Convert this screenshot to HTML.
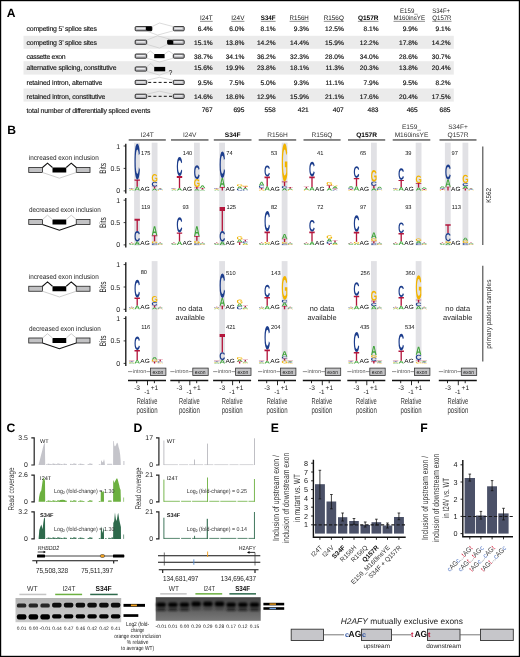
<!DOCTYPE html><html><head><meta charset="utf-8"><style>html,body{margin:0;padding:0;background:#fff;overflow:hidden}svg{display:block;will-change:transform}</style></head><body>
<svg width="520" height="657" viewBox="0 0 520 657" text-rendering="geometricPrecision" font-family='"Liberation Sans", sans-serif'>
<defs><path id="gC" d="M795 212Q1062 212 1166 480L1423 383Q1340 179 1179.5 79.5Q1019 -20 795 -20Q455 -20 269.5 172.5Q84 365 84 711Q84 1058 263.0 1244.0Q442 1430 782 1430Q1030 1430 1186.0 1330.5Q1342 1231 1405 1038L1145 967Q1112 1073 1015.5 1135.5Q919 1198 788 1198Q588 1198 484.5 1074.0Q381 950 381 711Q381 468 487.5 340.0Q594 212 795 212Z"/><path id="gT" d="M773 1181V0H478V1181H23V1409H1229V1181Z"/><path id="gA" d="M1133 0 1008 360H471L346 0H51L565 1409H913L1425 0ZM739 1192 733 1170Q723 1134 709.0 1088.0Q695 1042 537 582H942L803 987L760 1123Z"/><path id="gG" d="M806 211Q921 211 1029.0 244.5Q1137 278 1196 330V525H852V743H1466V225Q1354 110 1174.5 45.0Q995 -20 798 -20Q454 -20 269.0 170.5Q84 361 84 711Q84 1059 270.0 1244.5Q456 1430 805 1430Q1301 1430 1436 1063L1164 981Q1120 1088 1026.0 1143.0Q932 1198 805 1198Q597 1198 489.0 1072.0Q381 946 381 711Q381 472 492.5 341.5Q604 211 806 211Z"/></defs>
<rect x="0" y="0" width="520" height="657" fill="#fff"/>
<text x="6.8" y="16.6" font-size="12.1" font-weight="bold" fill="#000">A</text>
<rect x="23.5" y="35.8" width="430.3" height="13.0" fill="#ebebeb"/>
<rect x="23.5" y="61.2" width="430.3" height="13.399999999999991" fill="#ebebeb"/>
<rect x="23.5" y="88.5" width="430.3" height="13.099999999999994" fill="#ebebeb"/>
<text x="26.5" y="30.7" font-size="6.9" textLength="70.4" lengthAdjust="spacing" fill="#111" stroke="#111" stroke-width="0.12">competing 5&#8217; splice sites</text>
<text x="26.5" y="44.6" font-size="6.9" textLength="70.4" lengthAdjust="spacing" fill="#111" stroke="#111" stroke-width="0.12">competing 3&#8217; splice sites</text>
<text x="26.5" y="58.6" font-size="6.9" textLength="39.2" lengthAdjust="spacing" fill="#111" stroke="#111" stroke-width="0.12">cassette exon</text>
<text x="26.5" y="70.2" font-size="6.9" textLength="90.0" lengthAdjust="spacing" fill="#111" stroke="#111" stroke-width="0.12">alternative splicing, constitutive</text>
<text x="26.5" y="85.0" font-size="6.9" textLength="75.9" lengthAdjust="spacing" fill="#111" stroke="#111" stroke-width="0.12">retained intron, alternative</text>
<text x="26.5" y="98.7" font-size="6.9" textLength="78.9" lengthAdjust="spacing" fill="#111" stroke="#111" stroke-width="0.12">retained intron, constitutive</text>
<text x="26.5" y="112.9" font-size="6.9" textLength="123.9" lengthAdjust="spacing" fill="#111" stroke="#111" stroke-width="0.12">total number of differentially spliced events</text>
<text x="212.7" y="30.7" font-size="6.6" text-anchor="end" fill="#111" stroke="#111" stroke-width="0.18">6.4%</text>
<text x="244.4" y="30.7" font-size="6.6" text-anchor="end" fill="#111" stroke="#111" stroke-width="0.18">6.0%</text>
<text x="275.6" y="30.7" font-size="6.6" text-anchor="end" fill="#111" stroke="#111" stroke-width="0.18">8.1%</text>
<text x="308.8" y="30.7" font-size="6.6" text-anchor="end" fill="#111" stroke="#111" stroke-width="0.18">9.3%</text>
<text x="343.8" y="30.7" font-size="6.6" text-anchor="end" fill="#111" stroke="#111" stroke-width="0.18">12.5%</text>
<text x="378.5" y="30.7" font-size="6.6" text-anchor="end" fill="#111" stroke="#111" stroke-width="0.18">8.1%</text>
<text x="417.7" y="30.7" font-size="6.6" text-anchor="end" fill="#111" stroke="#111" stroke-width="0.18">9.9%</text>
<text x="450.5" y="30.7" font-size="6.6" text-anchor="end" fill="#111" stroke="#111" stroke-width="0.18">9.1%</text>
<text x="212.7" y="44.6" font-size="6.6" text-anchor="end" fill="#111" stroke="#111" stroke-width="0.18">15.1%</text>
<text x="244.4" y="44.6" font-size="6.6" text-anchor="end" fill="#111" stroke="#111" stroke-width="0.18">13.8%</text>
<text x="275.6" y="44.6" font-size="6.6" text-anchor="end" fill="#111" stroke="#111" stroke-width="0.18">14.2%</text>
<text x="308.8" y="44.6" font-size="6.6" text-anchor="end" fill="#111" stroke="#111" stroke-width="0.18">14.4%</text>
<text x="343.8" y="44.6" font-size="6.6" text-anchor="end" fill="#111" stroke="#111" stroke-width="0.18">15.9%</text>
<text x="378.5" y="44.6" font-size="6.6" text-anchor="end" fill="#111" stroke="#111" stroke-width="0.18">12.2%</text>
<text x="417.7" y="44.6" font-size="6.6" text-anchor="end" fill="#111" stroke="#111" stroke-width="0.18">17.8%</text>
<text x="450.5" y="44.6" font-size="6.6" text-anchor="end" fill="#111" stroke="#111" stroke-width="0.18">14.2%</text>
<text x="212.7" y="58.6" font-size="6.6" text-anchor="end" fill="#111" stroke="#111" stroke-width="0.18">38.7%</text>
<text x="244.4" y="58.6" font-size="6.6" text-anchor="end" fill="#111" stroke="#111" stroke-width="0.18">34.1%</text>
<text x="275.6" y="58.6" font-size="6.6" text-anchor="end" fill="#111" stroke="#111" stroke-width="0.18">36.2%</text>
<text x="308.8" y="58.6" font-size="6.6" text-anchor="end" fill="#111" stroke="#111" stroke-width="0.18">32.3%</text>
<text x="343.8" y="58.6" font-size="6.6" text-anchor="end" fill="#111" stroke="#111" stroke-width="0.18">28.0%</text>
<text x="378.5" y="58.6" font-size="6.6" text-anchor="end" fill="#111" stroke="#111" stroke-width="0.18">34.0%</text>
<text x="417.7" y="58.6" font-size="6.6" text-anchor="end" fill="#111" stroke="#111" stroke-width="0.18">28.6%</text>
<text x="450.5" y="58.6" font-size="6.6" text-anchor="end" fill="#111" stroke="#111" stroke-width="0.18">30.7%</text>
<text x="212.7" y="70.2" font-size="6.6" text-anchor="end" fill="#111" stroke="#111" stroke-width="0.18">15.6%</text>
<text x="244.4" y="70.2" font-size="6.6" text-anchor="end" fill="#111" stroke="#111" stroke-width="0.18">19.9%</text>
<text x="275.6" y="70.2" font-size="6.6" text-anchor="end" fill="#111" stroke="#111" stroke-width="0.18">23.8%</text>
<text x="308.8" y="70.2" font-size="6.6" text-anchor="end" fill="#111" stroke="#111" stroke-width="0.18">18.1%</text>
<text x="343.8" y="70.2" font-size="6.6" text-anchor="end" fill="#111" stroke="#111" stroke-width="0.18">11.3%</text>
<text x="378.5" y="70.2" font-size="6.6" text-anchor="end" fill="#111" stroke="#111" stroke-width="0.18">20.3%</text>
<text x="417.7" y="70.2" font-size="6.6" text-anchor="end" fill="#111" stroke="#111" stroke-width="0.18">13.8%</text>
<text x="450.5" y="70.2" font-size="6.6" text-anchor="end" fill="#111" stroke="#111" stroke-width="0.18">20.4%</text>
<text x="212.7" y="85.0" font-size="6.6" text-anchor="end" fill="#111" stroke="#111" stroke-width="0.18">9.5%</text>
<text x="244.4" y="85.0" font-size="6.6" text-anchor="end" fill="#111" stroke="#111" stroke-width="0.18">7.5%</text>
<text x="275.6" y="85.0" font-size="6.6" text-anchor="end" fill="#111" stroke="#111" stroke-width="0.18">5.0%</text>
<text x="308.8" y="85.0" font-size="6.6" text-anchor="end" fill="#111" stroke="#111" stroke-width="0.18">9.3%</text>
<text x="343.8" y="85.0" font-size="6.6" text-anchor="end" fill="#111" stroke="#111" stroke-width="0.18">11.1%</text>
<text x="378.5" y="85.0" font-size="6.6" text-anchor="end" fill="#111" stroke="#111" stroke-width="0.18">7.9%</text>
<text x="417.7" y="85.0" font-size="6.6" text-anchor="end" fill="#111" stroke="#111" stroke-width="0.18">9.5%</text>
<text x="450.5" y="85.0" font-size="6.6" text-anchor="end" fill="#111" stroke="#111" stroke-width="0.18">8.2%</text>
<text x="212.7" y="98.7" font-size="6.6" text-anchor="end" fill="#111" stroke="#111" stroke-width="0.18">14.6%</text>
<text x="244.4" y="98.7" font-size="6.6" text-anchor="end" fill="#111" stroke="#111" stroke-width="0.18">18.6%</text>
<text x="275.6" y="98.7" font-size="6.6" text-anchor="end" fill="#111" stroke="#111" stroke-width="0.18">12.9%</text>
<text x="308.8" y="98.7" font-size="6.6" text-anchor="end" fill="#111" stroke="#111" stroke-width="0.18">15.9%</text>
<text x="343.8" y="98.7" font-size="6.6" text-anchor="end" fill="#111" stroke="#111" stroke-width="0.18">21.1%</text>
<text x="378.5" y="98.7" font-size="6.6" text-anchor="end" fill="#111" stroke="#111" stroke-width="0.18">17.6%</text>
<text x="417.7" y="98.7" font-size="6.6" text-anchor="end" fill="#111" stroke="#111" stroke-width="0.18">20.4%</text>
<text x="450.5" y="98.7" font-size="6.6" text-anchor="end" fill="#111" stroke="#111" stroke-width="0.18">17.5%</text>
<text x="212.7" y="112.1" font-size="6.6" text-anchor="end" fill="#111" stroke="#111" stroke-width="0.18">767</text>
<text x="244.4" y="112.1" font-size="6.6" text-anchor="end" fill="#111" stroke="#111" stroke-width="0.18">695</text>
<text x="275.6" y="112.1" font-size="6.6" text-anchor="end" fill="#111" stroke="#111" stroke-width="0.18">558</text>
<text x="308.8" y="112.1" font-size="6.6" text-anchor="end" fill="#111" stroke="#111" stroke-width="0.18">421</text>
<text x="343.8" y="112.1" font-size="6.6" text-anchor="end" fill="#111" stroke="#111" stroke-width="0.18">407</text>
<text x="378.5" y="112.1" font-size="6.6" text-anchor="end" fill="#111" stroke="#111" stroke-width="0.18">483</text>
<text x="417.7" y="112.1" font-size="6.6" text-anchor="end" fill="#111" stroke="#111" stroke-width="0.18">465</text>
<text x="450.5" y="112.1" font-size="6.6" text-anchor="end" fill="#111" stroke="#111" stroke-width="0.18">685</text>
<text x="200" y="20.2" font-size="6.6" textLength="12.7" lengthAdjust="spacingAndGlyphs" fill="#111">I24T</text>
<rect x="200" y="20.9" width="12.7" height="0.6" fill="#444"/>
<text x="231.3" y="20.2" font-size="6.6" textLength="13.1" lengthAdjust="spacingAndGlyphs" fill="#111">I24V</text>
<rect x="231.3" y="20.9" width="13.1" height="0.6" fill="#444"/>
<text x="260.8" y="20.2" font-size="6.6" font-weight="bold" textLength="14.8" lengthAdjust="spacingAndGlyphs" fill="#000">S34F</text>
<rect x="260.8" y="20.9" width="14.8" height="0.6" fill="#444"/>
<text x="289.6" y="20.2" font-size="6.6" textLength="19.2" lengthAdjust="spacingAndGlyphs" fill="#111">R156H</text>
<rect x="289.6" y="20.9" width="19.2" height="0.6" fill="#444"/>
<text x="323.8" y="20.2" font-size="6.6" textLength="20.0" lengthAdjust="spacingAndGlyphs" fill="#111">R156Q</text>
<rect x="323.8" y="20.9" width="20.0" height="0.6" fill="#444"/>
<text x="357.9" y="20.2" font-size="6.6" font-weight="bold" textLength="20.6" lengthAdjust="spacingAndGlyphs" fill="#000">Q157R</text>
<rect x="357.9" y="20.9" width="20.6" height="0.6" fill="#444"/>
<text x="400" y="12.9" font-size="6.6" textLength="17.7" lengthAdjust="spacingAndGlyphs" fill="#222">E159_</text>
<text x="393.5" y="20.2" font-size="6.6" textLength="31.5" lengthAdjust="spacingAndGlyphs" fill="#222">M160insYE</text>
<rect x="393.5" y="20.9" width="31.5" height="0.6" fill="#444"/>
<text x="432.3" y="12.9" font-size="6.6" textLength="17.7" lengthAdjust="spacingAndGlyphs" fill="#222">S34F+</text>
<text x="432.3" y="20.2" font-size="6.6" textLength="19.2" lengthAdjust="spacingAndGlyphs" fill="#222">Q157R</text>
<rect x="432.3" y="20.9" width="19.2" height="0.6" fill="#444"/>
<rect x="135.2" y="26.6" width="16.7" height="4.2" rx="0.9" fill="#b9b9bd" stroke="#1a1a1a" stroke-width="0.9"/>
<rect x="136.39999999999998" y="27.6" width="13.7" height="1.34" fill="#ececee"/>
<rect x="145.8" y="26.6" width="6.099999999999994" height="4.2" fill="#000"/>
<rect x="173.3" y="26.6" width="10.9" height="4.2" rx="0.9" fill="#b9b9bd" stroke="#1a1a1a" stroke-width="0.9"/>
<rect x="174.5" y="27.6" width="7.9" height="1.34" fill="#ececee"/>
<polyline points="151.9,26.6 159.5,23.0 173.3,26.6" stroke="#c4c4c4" stroke-width="0.6" fill="none"/>
<polyline points="145.8,30.8 157.5,35.1 173.3,30.8" stroke="#c4c4c4" stroke-width="0.6" fill="none"/>
<rect x="135.2" y="40.1" width="11.5" height="4.2" rx="0.9" fill="#b9b9bd" stroke="#1a1a1a" stroke-width="0.9"/>
<rect x="136.39999999999998" y="41.1" width="8.5" height="1.34" fill="#ececee"/>
<rect x="167.5" y="40.1" width="16.7" height="4.2" rx="0.9" fill="#b9b9bd" stroke="#1a1a1a" stroke-width="0.9"/>
<rect x="168.7" y="41.1" width="13.7" height="1.34" fill="#ececee"/>
<rect x="167.5" y="40.1" width="5.800000000000011" height="4.2" fill="#000"/>
<polyline points="146.7,40.1 157.5,35.800000000000004 173.3,40.1" stroke="#c4c4c4" stroke-width="0.6" fill="none"/>
<polyline points="146.7,44.300000000000004 159.5,48.1 167.5,44.300000000000004" stroke="#c4c4c4" stroke-width="0.6" fill="none"/>
<rect x="135.2" y="54.0" width="11.5" height="4.2" rx="0.9" fill="#b9b9bd" stroke="#1a1a1a" stroke-width="0.9"/>
<rect x="136.39999999999998" y="55.0" width="8.5" height="1.34" fill="#ececee"/>
<rect x="173.3" y="54.0" width="10.9" height="4.2" rx="0.9" fill="#b9b9bd" stroke="#1a1a1a" stroke-width="0.9"/>
<rect x="174.5" y="55.0" width="7.9" height="1.34" fill="#ececee"/>
<rect x="154.2" y="54.0" width="10.4" height="4.2" fill="#000"/>
<polyline points="146.7,54.0 150.3,51.0 154.2,54.0" stroke="#c4c4c4" stroke-width="0.6" fill="none"/>
<polyline points="164.6,54.0 168.8,51.0 173.3,54.0" stroke="#c4c4c4" stroke-width="0.6" fill="none"/>
<polyline points="146.7,58.2 159.5,62.0 173.3,58.2" stroke="#c4c4c4" stroke-width="0.6" fill="none"/>
<rect x="135.2" y="66.9" width="11.5" height="4.2" rx="0.9" fill="#b9b9bd" stroke="#1a1a1a" stroke-width="0.9"/>
<rect x="136.39999999999998" y="67.9" width="8.5" height="1.34" fill="#ececee"/>
<rect x="154.2" y="66.9" width="11" height="4.4" fill="#000"/>
<polyline points="146.7,66.9 150.8,63.400000000000006 154.2,66.9" stroke="#c4c4c4" stroke-width="0.6" fill="none"/>
<polyline points="146.7,71.30000000000001 159.5,75.10000000000001 168.5,71.9" stroke="#c4c4c4" stroke-width="0.6" fill="none"/>
<text x="168.4" y="74.5" font-size="7.0" fill="#222">?</text>
<rect x="135.2" y="80.3" width="11.5" height="4.2" rx="0.9" fill="#b9b9bd" stroke="#1a1a1a" stroke-width="0.9"/>
<rect x="136.39999999999998" y="81.3" width="8.5" height="1.34" fill="#ececee"/>
<rect x="173.3" y="80.3" width="10.9" height="4.2" rx="0.9" fill="#b9b9bd" stroke="#1a1a1a" stroke-width="0.9"/>
<rect x="174.5" y="81.3" width="7.9" height="1.34" fill="#ececee"/>
<line x1="146.7" y1="82.39999999999999" x2="173.3" y2="82.39999999999999" stroke="#111" stroke-width="1.0" stroke-dasharray="3,2.2" stroke-dashoffset="-1.5"/>
<polyline points="146.7,80.3 159.5,77.3 173.3,80.3" stroke="#c4c4c4" stroke-width="0.6" fill="none"/>
<rect x="135.2" y="94.2" width="11.5" height="4.2" rx="0.9" fill="#b9b9bd" stroke="#1a1a1a" stroke-width="0.9"/>
<rect x="136.39999999999998" y="95.2" width="8.5" height="1.34" fill="#ececee"/>
<rect x="173.3" y="94.2" width="10.9" height="4.2" rx="0.9" fill="#b9b9bd" stroke="#1a1a1a" stroke-width="0.9"/>
<rect x="174.5" y="95.2" width="7.9" height="1.34" fill="#ececee"/>
<line x1="146.7" y1="96.3" x2="173.3" y2="96.3" stroke="#111" stroke-width="1.0" stroke-dasharray="3,2.2" stroke-dashoffset="-1.5"/>
<polyline points="146.7,94.2 159.5,91.2 173.3,94.2" stroke="#c4c4c4" stroke-width="0.6" fill="none"/>
<text x="7.2" y="133.9" font-size="12.1" font-weight="bold" fill="#000">B</text>
<rect x="128.7" y="139.3" width="37.1" height="1.3" fill="#4a4a4a"/>
<text x="147.25" y="137.2" font-size="6.6" text-anchor="middle" fill="#333">I24T</text>
<rect x="171" y="139.3" width="37.5" height="1.3" fill="#4a4a4a"/>
<text x="189.75" y="137.2" font-size="6.6" text-anchor="middle" fill="#333">I24V</text>
<rect x="213.8" y="139.3" width="37.7" height="1.3" fill="#4a4a4a"/>
<text x="232.65" y="137.2" font-size="6.6" text-anchor="middle" font-weight="bold" fill="#000">S34F</text>
<rect x="258.7" y="139.3" width="37.5" height="1.3" fill="#4a4a4a"/>
<text x="277.45" y="137.2" font-size="6.6" text-anchor="middle" fill="#333">R156H</text>
<rect x="303.5" y="139.3" width="37.1" height="1.3" fill="#4a4a4a"/>
<text x="322.05" y="137.2" font-size="6.6" text-anchor="middle" fill="#333">R156Q</text>
<rect x="348" y="139.3" width="37.2" height="1.3" fill="#4a4a4a"/>
<text x="366.6" y="137.2" font-size="6.6" text-anchor="middle" font-weight="bold" fill="#000">Q157R</text>
<rect x="392.7" y="139.3" width="37.6" height="1.3" fill="#4a4a4a"/>
<rect x="439.5" y="139.3" width="37.0" height="1.3" fill="#4a4a4a"/>
<text x="411.5" y="129.4" font-size="6.6" text-anchor="middle" fill="#333">E159_</text>
<text x="411.5" y="136.6" font-size="6.6" text-anchor="middle" fill="#333">M160insYE</text>
<text x="458" y="129.4" font-size="6.6" text-anchor="middle" fill="#333">S34F+</text>
<text x="458" y="136.6" font-size="6.6" text-anchor="middle" fill="#333">Q157R</text>
<rect x="134.1" y="142.7" width="5.8" height="102.9" fill="#e1e1e5"/>
<rect x="151.7" y="142.7" width="5.8" height="102.9" fill="#e1e1e5"/>
<rect x="194.0" y="142.7" width="5.8" height="102.9" fill="#e1e1e5"/>
<rect x="219.2" y="142.7" width="5.8" height="102.9" fill="#e1e1e5"/>
<rect x="281.7" y="142.7" width="5.8" height="102.9" fill="#e1e1e5"/>
<rect x="371.0" y="142.7" width="5.8" height="102.9" fill="#e1e1e5"/>
<rect x="415.7" y="142.7" width="5.8" height="102.9" fill="#e1e1e5"/>
<rect x="444.9" y="142.7" width="5.8" height="102.9" fill="#e1e1e5"/>
<rect x="462.5" y="142.7" width="5.8" height="102.9" fill="#e1e1e5"/>
<rect x="151.7" y="261.1" width="5.8" height="101.5" fill="#e1e1e5"/>
<rect x="219.2" y="261.1" width="5.8" height="101.5" fill="#e1e1e5"/>
<rect x="281.7" y="261.1" width="5.8" height="101.5" fill="#e1e1e5"/>
<rect x="371.0" y="261.1" width="5.8" height="101.5" fill="#e1e1e5"/>
<rect x="415.7" y="261.1" width="5.8" height="101.5" fill="#e1e1e5"/>
<line x1="125.8" y1="143.7" x2="125.8" y2="193.5" stroke="#111" stroke-width="1.3"/>
<line x1="123.6" y1="146.0" x2="125.8" y2="146.0" stroke="#111" stroke-width="0.8"/>
<text x="120.2" y="148.5" font-size="7.0" text-anchor="end" fill="#1a1a1a">1</text>
<line x1="123.6" y1="168.4" x2="125.8" y2="168.4" stroke="#111" stroke-width="0.8"/>
<text x="120.2" y="170.9" font-size="7.0" text-anchor="end" fill="#1a1a1a">0.5</text>
<line x1="123.6" y1="190.9" x2="125.8" y2="190.9" stroke="#111" stroke-width="0.8"/>
<text x="120.2" y="193.4" font-size="7.0" text-anchor="end" fill="#1a1a1a">0</text>
<text transform="translate(106.1,168.4) rotate(-90)" font-size="9.4" text-anchor="middle" fill="#222" textLength="10.9" lengthAdjust="spacingAndGlyphs">Bits</text>
<line x1="125.8" y1="197.89999999999998" x2="125.8" y2="247.5" stroke="#111" stroke-width="1.3"/>
<line x1="123.6" y1="200.2" x2="125.8" y2="200.2" stroke="#111" stroke-width="0.8"/>
<text x="120.2" y="202.7" font-size="7.0" text-anchor="end" fill="#1a1a1a">1</text>
<line x1="123.6" y1="222.6" x2="125.8" y2="222.6" stroke="#111" stroke-width="0.8"/>
<text x="120.2" y="225.1" font-size="7.0" text-anchor="end" fill="#1a1a1a">0.5</text>
<line x1="123.6" y1="244.9" x2="125.8" y2="244.9" stroke="#111" stroke-width="0.8"/>
<text x="120.2" y="247.4" font-size="7.0" text-anchor="end" fill="#1a1a1a">0</text>
<text transform="translate(106.1,222.6) rotate(-90)" font-size="9.4" text-anchor="middle" fill="#222" textLength="10.9" lengthAdjust="spacingAndGlyphs">Bits</text>
<line x1="125.8" y1="262.3" x2="125.8" y2="311.90000000000003" stroke="#111" stroke-width="1.3"/>
<line x1="123.6" y1="264.6" x2="125.8" y2="264.6" stroke="#111" stroke-width="0.8"/>
<text x="120.2" y="267.1" font-size="7.0" text-anchor="end" fill="#1a1a1a">1</text>
<line x1="123.6" y1="287.0" x2="125.8" y2="287.0" stroke="#111" stroke-width="0.8"/>
<text x="120.2" y="289.5" font-size="7.0" text-anchor="end" fill="#1a1a1a">0.5</text>
<line x1="123.6" y1="309.3" x2="125.8" y2="309.3" stroke="#111" stroke-width="0.8"/>
<text x="120.2" y="311.8" font-size="7.0" text-anchor="end" fill="#1a1a1a">0</text>
<text transform="translate(106.1,287.0) rotate(-90)" font-size="9.4" text-anchor="middle" fill="#222" textLength="10.9" lengthAdjust="spacingAndGlyphs">Bits</text>
<line x1="125.8" y1="316.2" x2="125.8" y2="366.0" stroke="#111" stroke-width="1.3"/>
<line x1="123.6" y1="318.5" x2="125.8" y2="318.5" stroke="#111" stroke-width="0.8"/>
<text x="120.2" y="321.0" font-size="7.0" text-anchor="end" fill="#1a1a1a">1</text>
<line x1="123.6" y1="340.9" x2="125.8" y2="340.9" stroke="#111" stroke-width="0.8"/>
<text x="120.2" y="343.4" font-size="7.0" text-anchor="end" fill="#1a1a1a">0.5</text>
<line x1="123.6" y1="363.4" x2="125.8" y2="363.4" stroke="#111" stroke-width="0.8"/>
<text x="120.2" y="365.9" font-size="7.0" text-anchor="end" fill="#1a1a1a">0</text>
<text transform="translate(106.1,340.9) rotate(-90)" font-size="9.4" text-anchor="middle" fill="#222" textLength="10.9" lengthAdjust="spacingAndGlyphs">Bits</text>
<text x="28.9" y="160.2" font-size="7.0" textLength="69.8" lengthAdjust="spacingAndGlyphs" fill="#1a1a1a">increased exon inclusion</text>
<rect x="28.75" y="167.5" width="13.75" height="5" fill="#c2c2c4" stroke="#222" stroke-width="0.8"/>
<rect x="76.25" y="167.5" width="13.75" height="5" fill="#c2c2c4" stroke="#222" stroke-width="0.8"/>
<rect x="52.5" y="167.5" width="13.75" height="5" fill="#000"/>
<path d="M42.5,167.5 47.5,163.2 52.5,167.5 M66.25,167.5 71.25,163.2 76.25,167.5" stroke="#111" stroke-width="1.1" fill="none"/>
<path d="M42.5,172.5 59.4,178.2 76.25,172.5" stroke="#c8c8c8" stroke-width="0.9" fill="none"/>
<text x="28.9" y="212.2" font-size="7.0" textLength="72.0" lengthAdjust="spacingAndGlyphs" fill="#1a1a1a">decreased exon inclusion</text>
<rect x="28.75" y="219.5" width="13.75" height="5" fill="#c2c2c4" stroke="#222" stroke-width="0.8"/>
<rect x="76.25" y="219.5" width="13.75" height="5" fill="#c2c2c4" stroke="#222" stroke-width="0.8"/>
<rect x="52.5" y="219.5" width="13.75" height="5" fill="#000"/>
<path d="M42.5,219.5 47.5,215.2 52.5,219.5 M66.25,219.5 71.25,215.2 76.25,219.5" stroke="#c8c8c8" stroke-width="0.9" fill="none"/>
<path d="M42.5,224.5 59.4,230.2 76.25,224.5" stroke="#111" stroke-width="1.1" fill="none"/>
<text x="28.9" y="278.9" font-size="7.0" textLength="69.8" lengthAdjust="spacingAndGlyphs" fill="#1a1a1a">increased exon inclusion</text>
<rect x="28.75" y="286.25" width="13.75" height="5" fill="#c2c2c4" stroke="#222" stroke-width="0.8"/>
<rect x="76.25" y="286.25" width="13.75" height="5" fill="#c2c2c4" stroke="#222" stroke-width="0.8"/>
<rect x="52.5" y="286.25" width="13.75" height="5" fill="#000"/>
<path d="M42.5,286.25 47.5,281.95 52.5,286.25 M66.25,286.25 71.25,281.95 76.25,286.25" stroke="#111" stroke-width="1.1" fill="none"/>
<path d="M42.5,291.25 59.4,296.95 76.25,291.25" stroke="#c8c8c8" stroke-width="0.9" fill="none"/>
<text x="28.9" y="330.9" font-size="7.0" textLength="72.0" lengthAdjust="spacingAndGlyphs" fill="#1a1a1a">decreased exon inclusion</text>
<rect x="28.75" y="338" width="13.75" height="5" fill="#c2c2c4" stroke="#222" stroke-width="0.8"/>
<rect x="76.25" y="338" width="13.75" height="5" fill="#c2c2c4" stroke="#222" stroke-width="0.8"/>
<rect x="52.5" y="338" width="13.75" height="5" fill="#000"/>
<path d="M42.5,338 47.5,333.7 52.5,338 M66.25,338 71.25,333.7 76.25,338" stroke="#c8c8c8" stroke-width="0.9" fill="none"/>
<path d="M42.5,343 59.4,348.7 76.25,343" stroke="#111" stroke-width="1.1" fill="none"/>
<use href="#gA" fill="#3fa43a" transform="translate(134.50,190.60) scale(0.00393,-0.00277) translate(-51,0)"/>
<use href="#gT" fill="#b3163c" transform="translate(134.50,186.70) scale(0.00448,-0.00504) translate(-23,0)"/>
<use href="#gC" fill="#1c3d8c" transform="translate(134.50,179.60) scale(0.00403,-0.02469) translate(-84,20)"/>
<use href="#gA" fill="#3fa43a" transform="translate(151.80,190.60) scale(0.00400,-0.00142) translate(-51,0)"/>
<use href="#gT" fill="#b3163c" transform="translate(151.80,188.60) scale(0.00456,-0.00149) translate(-23,0)"/>
<use href="#gC" fill="#1c3d8c" transform="translate(151.80,186.50) scale(0.00411,-0.00324) translate(-84,20)"/>
<use href="#gG" fill="#f1b300" transform="translate(151.80,181.80) scale(0.00398,-0.00538) translate(-84,20)"/>
<text x="140.3" y="190.65" font-size="6.0" textLength="9.4" lengthAdjust="spacingAndGlyphs" fill="#000">AG</text>
<text x="141.0" y="155.0" font-size="5.7" fill="#111">175</text>
<use href="#gA" fill="#3fa43a" transform="translate(128.90,190.60) scale(0.00393,-0.00064) translate(-51,0)"/>
<use href="#gG" fill="#f1b300" transform="translate(128.90,189.70) scale(0.00391,-0.00041) translate(-84,20)"/>
<use href="#gC" fill="#1c3d8c" transform="translate(128.90,189.10) scale(0.00403,-0.00041) translate(-84,20)"/>
<use href="#gT" fill="#b3163c" transform="translate(128.90,188.50) scale(0.00448,-0.00035) translate(-23,0)"/>
<use href="#gG" fill="#f1b300" transform="translate(157.50,190.60) scale(0.00391,-0.00048) translate(-84,20)"/>
<use href="#gC" fill="#1c3d8c" transform="translate(157.50,189.90) scale(0.00403,-0.00041) translate(-84,20)"/>
<use href="#gA" fill="#3fa43a" transform="translate(157.50,189.30) scale(0.00393,-0.00057) translate(-51,0)"/>
<use href="#gT" fill="#b3163c" transform="translate(157.50,188.50) scale(0.00448,-0.00035) translate(-23,0)"/>
<use href="#gA" fill="#3fa43a" transform="translate(176.80,190.60) scale(0.00393,-0.00192) translate(-51,0)"/>
<use href="#gT" fill="#b3163c" transform="translate(176.80,187.90) scale(0.00448,-0.00845) translate(-23,0)"/>
<use href="#gC" fill="#1c3d8c" transform="translate(176.80,176.00) scale(0.00403,-0.01303) translate(-84,20)"/>
<use href="#gA" fill="#3fa43a" transform="translate(194.10,190.60) scale(0.00400,-0.00121) translate(-51,0)"/>
<use href="#gT" fill="#b3163c" transform="translate(194.10,188.90) scale(0.00456,-0.00135) translate(-23,0)"/>
<use href="#gG" fill="#f1b300" transform="translate(194.10,187.00) scale(0.00398,-0.00545) translate(-84,20)"/>
<use href="#gC" fill="#1c3d8c" transform="translate(194.10,179.10) scale(0.00411,-0.00952) translate(-84,20)"/>
<text x="182.6" y="190.65" font-size="6.0" textLength="9.4" lengthAdjust="spacingAndGlyphs" fill="#000">AG</text>
<text x="182.8" y="155.0" font-size="5.7" fill="#111">140</text>
<use href="#gA" fill="#3fa43a" transform="translate(171.20,190.60) scale(0.00393,-0.00064) translate(-51,0)"/>
<use href="#gG" fill="#f1b300" transform="translate(171.20,189.70) scale(0.00391,-0.00041) translate(-84,20)"/>
<use href="#gC" fill="#1c3d8c" transform="translate(171.20,189.10) scale(0.00403,-0.00041) translate(-84,20)"/>
<use href="#gT" fill="#b3163c" transform="translate(171.20,188.50) scale(0.00448,-0.00035) translate(-23,0)"/>
<use href="#gA" fill="#3fa43a" transform="translate(199.80,190.60) scale(0.00393,-0.00085) translate(-51,0)"/>
<use href="#gT" fill="#b3163c" transform="translate(199.80,189.40) scale(0.00448,-0.00106) translate(-23,0)"/>
<use href="#gA" fill="#3fa43a" transform="translate(199.80,187.90) scale(0.00393,-0.00185) translate(-51,0)"/>
<use href="#gT" fill="#b3163c" transform="translate(219.60,190.60) scale(0.00448,-0.00248) translate(-23,0)"/>
<use href="#gA" fill="#3fa43a" transform="translate(219.60,187.10) scale(0.00393,-0.00646) translate(-51,0)"/>
<use href="#gC" fill="#1c3d8c" transform="translate(219.60,178.00) scale(0.00403,-0.01828) translate(-84,20)"/>
<use href="#gC" fill="#1c3d8c" transform="translate(236.90,190.60) scale(0.00411,-0.00152) translate(-84,20)"/>
<use href="#gA" fill="#3fa43a" transform="translate(236.90,188.40) scale(0.00400,-0.00142) translate(-51,0)"/>
<use href="#gG" fill="#f1b300" transform="translate(236.90,186.40) scale(0.00398,-0.00152) translate(-84,20)"/>
<text x="225.4" y="190.65" font-size="6.0" textLength="9.4" lengthAdjust="spacingAndGlyphs" fill="#000">AG</text>
<text x="226.3" y="154.8" font-size="5.7" fill="#111">74</text>
<use href="#gA" fill="#3fa43a" transform="translate(214.00,190.60) scale(0.00393,-0.00064) translate(-51,0)"/>
<use href="#gG" fill="#f1b300" transform="translate(214.00,189.70) scale(0.00391,-0.00041) translate(-84,20)"/>
<use href="#gC" fill="#1c3d8c" transform="translate(214.00,189.10) scale(0.00403,-0.00041) translate(-84,20)"/>
<use href="#gT" fill="#b3163c" transform="translate(214.00,188.50) scale(0.00448,-0.00035) translate(-23,0)"/>
<use href="#gC" fill="#1c3d8c" transform="translate(242.60,190.60) scale(0.00403,-0.00083) translate(-84,20)"/>
<use href="#gA" fill="#3fa43a" transform="translate(242.60,189.40) scale(0.00393,-0.00092) translate(-51,0)"/>
<use href="#gT" fill="#b3163c" transform="translate(242.60,188.10) scale(0.00448,-0.00114) translate(-23,0)"/>
<use href="#gG" fill="#f1b300" transform="translate(242.60,186.50) scale(0.00391,-0.00062) translate(-84,20)"/>
<use href="#gA" fill="#3fa43a" transform="translate(264.50,190.60) scale(0.00393,-0.00305) translate(-51,0)"/>
<use href="#gT" fill="#b3163c" transform="translate(264.50,186.30) scale(0.00448,-0.00688) translate(-23,0)"/>
<use href="#gC" fill="#1c3d8c" transform="translate(264.50,176.60) scale(0.00403,-0.00772) translate(-84,20)"/>
<use href="#gA" fill="#3fa43a" transform="translate(281.80,190.60) scale(0.00400,-0.00163) translate(-51,0)"/>
<use href="#gC" fill="#1c3d8c" transform="translate(281.80,188.30) scale(0.00411,-0.00159) translate(-84,20)"/>
<use href="#gT" fill="#b3163c" transform="translate(281.80,186.00) scale(0.00456,-0.00319) translate(-23,0)"/>
<use href="#gG" fill="#f1b300" transform="translate(281.80,181.50) scale(0.00398,-0.02621) translate(-84,20)"/>
<text x="270.3" y="190.65" font-size="6.0" textLength="9.4" lengthAdjust="spacingAndGlyphs" fill="#000">AG</text>
<text x="270.9" y="155.0" font-size="5.7" fill="#111">53</text>
<use href="#gG" fill="#f1b300" transform="translate(258.90,190.60) scale(0.00391,-0.00069) translate(-84,20)"/>
<use href="#gT" fill="#b3163c" transform="translate(258.90,189.60) scale(0.00448,-0.00114) translate(-23,0)"/>
<use href="#gC" fill="#1c3d8c" transform="translate(258.90,188.00) scale(0.00403,-0.00172) translate(-84,20)"/>
<use href="#gA" fill="#3fa43a" transform="translate(258.90,185.50) scale(0.00393,-0.00263) translate(-51,0)"/>
<use href="#gG" fill="#f1b300" transform="translate(287.50,190.60) scale(0.00391,-0.00055) translate(-84,20)"/>
<use href="#gA" fill="#3fa43a" transform="translate(287.50,189.80) scale(0.00393,-0.00085) translate(-51,0)"/>
<use href="#gT" fill="#b3163c" transform="translate(287.50,188.60) scale(0.00448,-0.00106) translate(-23,0)"/>
<use href="#gA" fill="#3fa43a" transform="translate(309.30,190.60) scale(0.00393,-0.00248) translate(-51,0)"/>
<use href="#gT" fill="#b3163c" transform="translate(309.30,187.10) scale(0.00448,-0.00759) translate(-23,0)"/>
<use href="#gC" fill="#1c3d8c" transform="translate(309.30,176.40) scale(0.00403,-0.01007) translate(-84,20)"/>
<use href="#gA" fill="#3fa43a" transform="translate(326.60,190.60) scale(0.00400,-0.00185) translate(-51,0)"/>
<use href="#gT" fill="#b3163c" transform="translate(326.60,188.00) scale(0.00456,-0.00192) translate(-23,0)"/>
<use href="#gG" fill="#f1b300" transform="translate(326.60,185.30) scale(0.00398,-0.00234) translate(-84,20)"/>
<text x="315.1" y="190.65" font-size="6.0" textLength="9.4" lengthAdjust="spacingAndGlyphs" fill="#000">AG</text>
<text x="317.1" y="155.0" font-size="5.7" fill="#111">41</text>
<use href="#gG" fill="#f1b300" transform="translate(303.70,190.60) scale(0.00391,-0.00055) translate(-84,20)"/>
<use href="#gA" fill="#3fa43a" transform="translate(303.70,189.80) scale(0.00393,-0.00106) translate(-51,0)"/>
<use href="#gT" fill="#b3163c" transform="translate(303.70,188.30) scale(0.00448,-0.00106) translate(-23,0)"/>
<use href="#gC" fill="#1c3d8c" transform="translate(332.30,190.60) scale(0.00403,-0.00069) translate(-84,20)"/>
<use href="#gT" fill="#b3163c" transform="translate(332.30,189.60) scale(0.00448,-0.00071) translate(-23,0)"/>
<use href="#gA" fill="#3fa43a" transform="translate(332.30,188.60) scale(0.00393,-0.00170) translate(-51,0)"/>
<use href="#gG" fill="#f1b300" transform="translate(332.30,186.20) scale(0.00391,-0.00055) translate(-84,20)"/>
<use href="#gA" fill="#3fa43a" transform="translate(353.80,190.60) scale(0.00393,-0.00305) translate(-51,0)"/>
<use href="#gT" fill="#b3163c" transform="translate(353.80,186.30) scale(0.00448,-0.00596) translate(-23,0)"/>
<use href="#gC" fill="#1c3d8c" transform="translate(353.80,177.90) scale(0.00403,-0.00807) translate(-84,20)"/>
<use href="#gA" fill="#3fa43a" transform="translate(371.10,190.60) scale(0.00400,-0.00170) translate(-51,0)"/>
<use href="#gT" fill="#b3163c" transform="translate(371.10,188.20) scale(0.00456,-0.00177) translate(-23,0)"/>
<use href="#gC" fill="#1c3d8c" transform="translate(371.10,185.70) scale(0.00411,-0.00290) translate(-84,20)"/>
<use href="#gG" fill="#f1b300" transform="translate(371.10,181.50) scale(0.00398,-0.00786) translate(-84,20)"/>
<text x="359.6" y="190.65" font-size="6.0" textLength="9.4" lengthAdjust="spacingAndGlyphs" fill="#000">AG</text>
<text x="359.9" y="155.0" font-size="5.7" fill="#111">65</text>
<use href="#gG" fill="#f1b300" transform="translate(348.20,190.60) scale(0.00391,-0.00041) translate(-84,20)"/>
<use href="#gT" fill="#b3163c" transform="translate(348.20,190.00) scale(0.00448,-0.00071) translate(-23,0)"/>
<use href="#gC" fill="#1c3d8c" transform="translate(348.20,189.00) scale(0.00403,-0.00083) translate(-84,20)"/>
<use href="#gA" fill="#3fa43a" transform="translate(348.20,187.80) scale(0.00393,-0.00128) translate(-51,0)"/>
<use href="#gG" fill="#f1b300" transform="translate(376.80,190.60) scale(0.00391,-0.00055) translate(-84,20)"/>
<use href="#gC" fill="#1c3d8c" transform="translate(376.80,189.80) scale(0.00403,-0.00083) translate(-84,20)"/>
<use href="#gA" fill="#3fa43a" transform="translate(376.80,188.60) scale(0.00393,-0.00135) translate(-51,0)"/>
<use href="#gA" fill="#3fa43a" transform="translate(398.50,190.60) scale(0.00393,-0.00248) translate(-51,0)"/>
<use href="#gT" fill="#b3163c" transform="translate(398.50,187.10) scale(0.00448,-0.00511) translate(-23,0)"/>
<use href="#gC" fill="#1c3d8c" transform="translate(398.50,179.90) scale(0.00403,-0.00800) translate(-84,20)"/>
<use href="#gA" fill="#3fa43a" transform="translate(415.80,190.60) scale(0.00400,-0.00213) translate(-51,0)"/>
<use href="#gT" fill="#b3163c" transform="translate(415.80,187.60) scale(0.00456,-0.00326) translate(-23,0)"/>
<use href="#gG" fill="#f1b300" transform="translate(415.80,183.00) scale(0.00398,-0.00517) translate(-84,20)"/>
<text x="404.3" y="190.65" font-size="6.0" textLength="9.4" lengthAdjust="spacingAndGlyphs" fill="#000">AG</text>
<text x="405.2" y="155.0" font-size="5.7" fill="#111">39</text>
<use href="#gA" fill="#3fa43a" transform="translate(392.90,190.60) scale(0.00393,-0.00064) translate(-51,0)"/>
<use href="#gG" fill="#f1b300" transform="translate(392.90,189.70) scale(0.00391,-0.00041) translate(-84,20)"/>
<use href="#gC" fill="#1c3d8c" transform="translate(392.90,189.10) scale(0.00403,-0.00041) translate(-84,20)"/>
<use href="#gT" fill="#b3163c" transform="translate(392.90,188.50) scale(0.00448,-0.00035) translate(-23,0)"/>
<use href="#gG" fill="#f1b300" transform="translate(421.50,190.60) scale(0.00391,-0.00041) translate(-84,20)"/>
<use href="#gT" fill="#b3163c" transform="translate(421.50,190.00) scale(0.00448,-0.00071) translate(-23,0)"/>
<use href="#gA" fill="#3fa43a" transform="translate(421.50,189.00) scale(0.00393,-0.00128) translate(-51,0)"/>
<use href="#gT" fill="#b3163c" transform="translate(445.30,190.60) scale(0.00448,-0.00277) translate(-23,0)"/>
<use href="#gA" fill="#3fa43a" transform="translate(445.30,186.70) scale(0.00393,-0.00511) translate(-51,0)"/>
<use href="#gC" fill="#1c3d8c" transform="translate(445.30,179.50) scale(0.00403,-0.01028) translate(-84,20)"/>
<use href="#gT" fill="#b3163c" transform="translate(462.60,190.60) scale(0.00456,-0.00142) translate(-23,0)"/>
<use href="#gA" fill="#3fa43a" transform="translate(462.60,188.60) scale(0.00400,-0.00177) translate(-51,0)"/>
<use href="#gC" fill="#1c3d8c" transform="translate(462.60,186.10) scale(0.00411,-0.00214) translate(-84,20)"/>
<use href="#gG" fill="#f1b300" transform="translate(462.60,183.00) scale(0.00398,-0.00572) translate(-84,20)"/>
<text x="451.1" y="190.65" font-size="6.0" textLength="9.4" lengthAdjust="spacingAndGlyphs" fill="#000">AG</text>
<text x="451.5" y="155.0" font-size="5.7" fill="#111">97</text>
<use href="#gG" fill="#f1b300" transform="translate(439.70,190.60) scale(0.00391,-0.00055) translate(-84,20)"/>
<use href="#gT" fill="#b3163c" transform="translate(439.70,189.80) scale(0.00448,-0.00057) translate(-23,0)"/>
<use href="#gC" fill="#1c3d8c" transform="translate(439.70,189.00) scale(0.00403,-0.00069) translate(-84,20)"/>
<use href="#gA" fill="#3fa43a" transform="translate(439.70,188.00) scale(0.00393,-0.00128) translate(-51,0)"/>
<use href="#gG" fill="#f1b300" transform="translate(468.30,190.60) scale(0.00391,-0.00048) translate(-84,20)"/>
<use href="#gC" fill="#1c3d8c" transform="translate(468.30,189.90) scale(0.00403,-0.00041) translate(-84,20)"/>
<use href="#gA" fill="#3fa43a" transform="translate(468.30,189.30) scale(0.00393,-0.00057) translate(-51,0)"/>
<use href="#gT" fill="#b3163c" transform="translate(468.30,188.50) scale(0.00448,-0.00035) translate(-23,0)"/>
<use href="#gA" fill="#3fa43a" transform="translate(134.50,245.00) scale(0.00393,-0.00241) translate(-51,0)"/>
<use href="#gC" fill="#1c3d8c" transform="translate(134.50,241.60) scale(0.00403,-0.00731) translate(-84,20)"/>
<use href="#gT" fill="#b3163c" transform="translate(134.50,231.00) scale(0.00448,-0.00873) translate(-23,0)"/>
<use href="#gC" fill="#1c3d8c" transform="translate(151.80,245.00) scale(0.00411,-0.00124) translate(-84,20)"/>
<use href="#gG" fill="#f1b300" transform="translate(151.80,243.20) scale(0.00398,-0.00138) translate(-84,20)"/>
<use href="#gT" fill="#b3163c" transform="translate(151.80,241.20) scale(0.00456,-0.00426) translate(-23,0)"/>
<use href="#gA" fill="#3fa43a" transform="translate(151.80,235.20) scale(0.00400,-0.00632) translate(-51,0)"/>
<text x="140.3" y="245.05" font-size="6.0" textLength="9.4" lengthAdjust="spacingAndGlyphs" fill="#000">AG</text>
<text x="141.2" y="209.4" font-size="5.7" fill="#111">119</text>
<use href="#gA" fill="#3fa43a" transform="translate(128.90,245.00) scale(0.00393,-0.00064) translate(-51,0)"/>
<use href="#gG" fill="#f1b300" transform="translate(128.90,244.10) scale(0.00391,-0.00041) translate(-84,20)"/>
<use href="#gC" fill="#1c3d8c" transform="translate(128.90,243.50) scale(0.00403,-0.00041) translate(-84,20)"/>
<use href="#gT" fill="#b3163c" transform="translate(128.90,242.90) scale(0.00448,-0.00035) translate(-23,0)"/>
<use href="#gG" fill="#f1b300" transform="translate(157.50,245.00) scale(0.00391,-0.00048) translate(-84,20)"/>
<use href="#gC" fill="#1c3d8c" transform="translate(157.50,244.30) scale(0.00403,-0.00041) translate(-84,20)"/>
<use href="#gA" fill="#3fa43a" transform="translate(157.50,243.70) scale(0.00393,-0.00057) translate(-51,0)"/>
<use href="#gT" fill="#b3163c" transform="translate(157.50,242.90) scale(0.00448,-0.00035) translate(-23,0)"/>
<use href="#gA" fill="#3fa43a" transform="translate(176.80,245.00) scale(0.00393,-0.00270) translate(-51,0)"/>
<use href="#gT" fill="#b3163c" transform="translate(176.80,241.20) scale(0.00448,-0.00625) translate(-23,0)"/>
<use href="#gC" fill="#1c3d8c" transform="translate(176.80,232.40) scale(0.00403,-0.01048) translate(-84,20)"/>
<use href="#gC" fill="#1c3d8c" transform="translate(194.10,245.00) scale(0.00411,-0.00110) translate(-84,20)"/>
<use href="#gG" fill="#f1b300" transform="translate(194.10,243.40) scale(0.00398,-0.00186) translate(-84,20)"/>
<use href="#gT" fill="#b3163c" transform="translate(194.10,240.70) scale(0.00456,-0.00341) translate(-23,0)"/>
<use href="#gA" fill="#3fa43a" transform="translate(194.10,235.90) scale(0.00400,-0.00681) translate(-51,0)"/>
<text x="182.6" y="245.05" font-size="6.0" textLength="9.4" lengthAdjust="spacingAndGlyphs" fill="#000">AG</text>
<text x="182.4" y="209.4" font-size="5.7" fill="#111">93</text>
<use href="#gA" fill="#3fa43a" transform="translate(171.20,245.00) scale(0.00393,-0.00064) translate(-51,0)"/>
<use href="#gG" fill="#f1b300" transform="translate(171.20,244.10) scale(0.00391,-0.00041) translate(-84,20)"/>
<use href="#gC" fill="#1c3d8c" transform="translate(171.20,243.50) scale(0.00403,-0.00041) translate(-84,20)"/>
<use href="#gT" fill="#b3163c" transform="translate(171.20,242.90) scale(0.00448,-0.00035) translate(-23,0)"/>
<use href="#gG" fill="#f1b300" transform="translate(199.80,245.00) scale(0.00391,-0.00048) translate(-84,20)"/>
<use href="#gC" fill="#1c3d8c" transform="translate(199.80,244.30) scale(0.00403,-0.00041) translate(-84,20)"/>
<use href="#gA" fill="#3fa43a" transform="translate(199.80,243.70) scale(0.00393,-0.00057) translate(-51,0)"/>
<use href="#gT" fill="#b3163c" transform="translate(199.80,242.90) scale(0.00448,-0.00035) translate(-23,0)"/>
<use href="#gA" fill="#3fa43a" transform="translate(219.60,245.00) scale(0.00393,-0.00241) translate(-51,0)"/>
<use href="#gC" fill="#1c3d8c" transform="translate(219.60,241.60) scale(0.00403,-0.00724) translate(-84,20)"/>
<use href="#gT" fill="#b3163c" transform="translate(219.60,231.10) scale(0.00448,-0.01703) translate(-23,0)"/>
<use href="#gT" fill="#b3163c" transform="translate(236.90,245.00) scale(0.00456,-0.00199) translate(-23,0)"/>
<use href="#gA" fill="#3fa43a" transform="translate(236.90,242.20) scale(0.00400,-0.00185) translate(-51,0)"/>
<use href="#gG" fill="#f1b300" transform="translate(236.90,239.60) scale(0.00398,-0.00228) translate(-84,20)"/>
<text x="225.4" y="245.05" font-size="6.0" textLength="9.4" lengthAdjust="spacingAndGlyphs" fill="#000">AG</text>
<text x="226.5" y="209.4" font-size="5.7" fill="#111">125</text>
<use href="#gA" fill="#3fa43a" transform="translate(214.00,245.00) scale(0.00393,-0.00064) translate(-51,0)"/>
<use href="#gG" fill="#f1b300" transform="translate(214.00,244.10) scale(0.00391,-0.00041) translate(-84,20)"/>
<use href="#gC" fill="#1c3d8c" transform="translate(214.00,243.50) scale(0.00403,-0.00041) translate(-84,20)"/>
<use href="#gT" fill="#b3163c" transform="translate(214.00,242.90) scale(0.00448,-0.00035) translate(-23,0)"/>
<use href="#gG" fill="#f1b300" transform="translate(242.60,245.00) scale(0.00391,-0.00055) translate(-84,20)"/>
<use href="#gA" fill="#3fa43a" transform="translate(242.60,244.20) scale(0.00393,-0.00092) translate(-51,0)"/>
<use href="#gC" fill="#1c3d8c" transform="translate(242.60,242.90) scale(0.00403,-0.00103) translate(-84,20)"/>
<use href="#gT" fill="#b3163c" transform="translate(242.60,241.40) scale(0.00448,-0.00121) translate(-23,0)"/>
<use href="#gA" fill="#3fa43a" transform="translate(264.50,245.00) scale(0.00393,-0.00106) translate(-51,0)"/>
<use href="#gG" fill="#f1b300" transform="translate(264.50,243.50) scale(0.00391,-0.00124) translate(-84,20)"/>
<use href="#gT" fill="#b3163c" transform="translate(264.50,241.70) scale(0.00448,-0.00724) translate(-23,0)"/>
<use href="#gC" fill="#1c3d8c" transform="translate(264.50,231.50) scale(0.00403,-0.01414) translate(-84,20)"/>
<use href="#gC" fill="#1c3d8c" transform="translate(281.80,245.00) scale(0.00411,-0.00097) translate(-84,20)"/>
<use href="#gG" fill="#f1b300" transform="translate(281.80,243.60) scale(0.00398,-0.00110) translate(-84,20)"/>
<use href="#gT" fill="#b3163c" transform="translate(281.80,242.00) scale(0.00456,-0.00227) translate(-23,0)"/>
<use href="#gA" fill="#3fa43a" transform="translate(281.80,238.80) scale(0.00400,-0.00348) translate(-51,0)"/>
<text x="270.3" y="245.05" font-size="6.0" textLength="9.4" lengthAdjust="spacingAndGlyphs" fill="#000">AG</text>
<text x="270.9" y="209.4" font-size="5.7" fill="#111">82</text>
<use href="#gA" fill="#3fa43a" transform="translate(258.90,245.00) scale(0.00393,-0.00064) translate(-51,0)"/>
<use href="#gG" fill="#f1b300" transform="translate(258.90,244.10) scale(0.00391,-0.00041) translate(-84,20)"/>
<use href="#gC" fill="#1c3d8c" transform="translate(258.90,243.50) scale(0.00403,-0.00041) translate(-84,20)"/>
<use href="#gT" fill="#b3163c" transform="translate(258.90,242.90) scale(0.00448,-0.00035) translate(-23,0)"/>
<use href="#gG" fill="#f1b300" transform="translate(287.50,245.00) scale(0.00391,-0.00048) translate(-84,20)"/>
<use href="#gC" fill="#1c3d8c" transform="translate(287.50,244.30) scale(0.00403,-0.00041) translate(-84,20)"/>
<use href="#gA" fill="#3fa43a" transform="translate(287.50,243.70) scale(0.00393,-0.00057) translate(-51,0)"/>
<use href="#gT" fill="#b3163c" transform="translate(287.50,242.90) scale(0.00448,-0.00035) translate(-23,0)"/>
<use href="#gA" fill="#3fa43a" transform="translate(309.30,245.00) scale(0.00393,-0.00241) translate(-51,0)"/>
<use href="#gT" fill="#b3163c" transform="translate(309.30,241.60) scale(0.00448,-0.00717) translate(-23,0)"/>
<use href="#gC" fill="#1c3d8c" transform="translate(309.30,231.50) scale(0.00403,-0.00800) translate(-84,20)"/>
<use href="#gT" fill="#b3163c" transform="translate(326.60,245.00) scale(0.00456,-0.00085) translate(-23,0)"/>
<use href="#gC" fill="#1c3d8c" transform="translate(326.60,243.80) scale(0.00411,-0.00152) translate(-84,20)"/>
<use href="#gA" fill="#3fa43a" transform="translate(326.60,241.60) scale(0.00400,-0.00199) translate(-51,0)"/>
<use href="#gG" fill="#f1b300" transform="translate(326.60,238.80) scale(0.00398,-0.00241) translate(-84,20)"/>
<text x="315.1" y="245.05" font-size="6.0" textLength="9.4" lengthAdjust="spacingAndGlyphs" fill="#000">AG</text>
<text x="317.1" y="209.4" font-size="5.7" fill="#111">72</text>
<use href="#gA" fill="#3fa43a" transform="translate(303.70,245.00) scale(0.00393,-0.00064) translate(-51,0)"/>
<use href="#gG" fill="#f1b300" transform="translate(303.70,244.10) scale(0.00391,-0.00041) translate(-84,20)"/>
<use href="#gC" fill="#1c3d8c" transform="translate(303.70,243.50) scale(0.00403,-0.00041) translate(-84,20)"/>
<use href="#gT" fill="#b3163c" transform="translate(303.70,242.90) scale(0.00448,-0.00035) translate(-23,0)"/>
<use href="#gG" fill="#f1b300" transform="translate(332.30,245.00) scale(0.00391,-0.00055) translate(-84,20)"/>
<use href="#gA" fill="#3fa43a" transform="translate(332.30,244.20) scale(0.00393,-0.00142) translate(-51,0)"/>
<use href="#gT" fill="#b3163c" transform="translate(332.30,242.20) scale(0.00448,-0.00128) translate(-23,0)"/>
<use href="#gA" fill="#3fa43a" transform="translate(353.80,245.00) scale(0.00393,-0.00106) translate(-51,0)"/>
<use href="#gG" fill="#f1b300" transform="translate(353.80,243.50) scale(0.00391,-0.00124) translate(-84,20)"/>
<use href="#gT" fill="#b3163c" transform="translate(353.80,241.70) scale(0.00448,-0.00703) translate(-23,0)"/>
<use href="#gC" fill="#1c3d8c" transform="translate(353.80,231.80) scale(0.00403,-0.01138) translate(-84,20)"/>
<use href="#gC" fill="#1c3d8c" transform="translate(371.10,245.00) scale(0.00411,-0.00124) translate(-84,20)"/>
<use href="#gT" fill="#b3163c" transform="translate(371.10,243.20) scale(0.00456,-0.00142) translate(-23,0)"/>
<use href="#gG" fill="#f1b300" transform="translate(371.10,241.20) scale(0.00398,-0.00200) translate(-84,20)"/>
<use href="#gA" fill="#3fa43a" transform="translate(371.10,238.30) scale(0.00400,-0.00419) translate(-51,0)"/>
<text x="359.6" y="245.05" font-size="6.0" textLength="9.4" lengthAdjust="spacingAndGlyphs" fill="#000">AG</text>
<text x="359.9" y="209.4" font-size="5.7" fill="#111">97</text>
<use href="#gA" fill="#3fa43a" transform="translate(348.20,245.00) scale(0.00393,-0.00064) translate(-51,0)"/>
<use href="#gG" fill="#f1b300" transform="translate(348.20,244.10) scale(0.00391,-0.00041) translate(-84,20)"/>
<use href="#gC" fill="#1c3d8c" transform="translate(348.20,243.50) scale(0.00403,-0.00041) translate(-84,20)"/>
<use href="#gT" fill="#b3163c" transform="translate(348.20,242.90) scale(0.00448,-0.00035) translate(-23,0)"/>
<use href="#gG" fill="#f1b300" transform="translate(376.80,245.00) scale(0.00391,-0.00048) translate(-84,20)"/>
<use href="#gC" fill="#1c3d8c" transform="translate(376.80,244.30) scale(0.00403,-0.00041) translate(-84,20)"/>
<use href="#gA" fill="#3fa43a" transform="translate(376.80,243.70) scale(0.00393,-0.00057) translate(-51,0)"/>
<use href="#gT" fill="#b3163c" transform="translate(376.80,242.90) scale(0.00448,-0.00035) translate(-23,0)"/>
<use href="#gA" fill="#3fa43a" transform="translate(398.50,245.00) scale(0.00393,-0.00270) translate(-51,0)"/>
<use href="#gT" fill="#b3163c" transform="translate(398.50,241.20) scale(0.00448,-0.00575) translate(-23,0)"/>
<use href="#gC" fill="#1c3d8c" transform="translate(398.50,233.10) scale(0.00403,-0.00738) translate(-84,20)"/>
<use href="#gC" fill="#1c3d8c" transform="translate(415.80,245.00) scale(0.00411,-0.00124) translate(-84,20)"/>
<use href="#gA" fill="#3fa43a" transform="translate(415.80,243.20) scale(0.00400,-0.00156) translate(-51,0)"/>
<use href="#gG" fill="#f1b300" transform="translate(415.80,241.00) scale(0.00398,-0.00172) translate(-84,20)"/>
<text x="404.3" y="245.05" font-size="6.0" textLength="9.4" lengthAdjust="spacingAndGlyphs" fill="#000">AG</text>
<text x="405.2" y="209.4" font-size="5.7" fill="#111">93</text>
<use href="#gA" fill="#3fa43a" transform="translate(392.90,245.00) scale(0.00393,-0.00064) translate(-51,0)"/>
<use href="#gG" fill="#f1b300" transform="translate(392.90,244.10) scale(0.00391,-0.00041) translate(-84,20)"/>
<use href="#gC" fill="#1c3d8c" transform="translate(392.90,243.50) scale(0.00403,-0.00041) translate(-84,20)"/>
<use href="#gT" fill="#b3163c" transform="translate(392.90,242.90) scale(0.00448,-0.00035) translate(-23,0)"/>
<use href="#gG" fill="#f1b300" transform="translate(421.50,245.00) scale(0.00391,-0.00048) translate(-84,20)"/>
<use href="#gC" fill="#1c3d8c" transform="translate(421.50,244.30) scale(0.00403,-0.00041) translate(-84,20)"/>
<use href="#gA" fill="#3fa43a" transform="translate(421.50,243.70) scale(0.00393,-0.00057) translate(-51,0)"/>
<use href="#gT" fill="#b3163c" transform="translate(421.50,242.90) scale(0.00448,-0.00035) translate(-23,0)"/>
<use href="#gA" fill="#3fa43a" transform="translate(445.30,245.00) scale(0.00393,-0.00142) translate(-51,0)"/>
<use href="#gG" fill="#f1b300" transform="translate(445.30,243.00) scale(0.00391,-0.00124) translate(-84,20)"/>
<use href="#gC" fill="#1c3d8c" transform="translate(445.30,241.20) scale(0.00403,-0.00559) translate(-84,20)"/>
<use href="#gT" fill="#b3163c" transform="translate(445.30,233.10) scale(0.00448,-0.00632) translate(-23,0)"/>
<use href="#gC" fill="#1c3d8c" transform="translate(462.60,245.00) scale(0.00411,-0.00138) translate(-84,20)"/>
<use href="#gG" fill="#f1b300" transform="translate(462.60,243.00) scale(0.00398,-0.00166) translate(-84,20)"/>
<use href="#gA" fill="#3fa43a" transform="translate(462.60,240.60) scale(0.00400,-0.00206) translate(-51,0)"/>
<text x="451.1" y="245.05" font-size="6.0" textLength="9.4" lengthAdjust="spacingAndGlyphs" fill="#000">AG</text>
<text x="451.8" y="209.4" font-size="5.7" fill="#111">113</text>
<use href="#gA" fill="#3fa43a" transform="translate(439.70,245.00) scale(0.00393,-0.00064) translate(-51,0)"/>
<use href="#gG" fill="#f1b300" transform="translate(439.70,244.10) scale(0.00391,-0.00041) translate(-84,20)"/>
<use href="#gC" fill="#1c3d8c" transform="translate(439.70,243.50) scale(0.00403,-0.00041) translate(-84,20)"/>
<use href="#gT" fill="#b3163c" transform="translate(439.70,242.90) scale(0.00448,-0.00035) translate(-23,0)"/>
<use href="#gG" fill="#f1b300" transform="translate(468.30,245.00) scale(0.00391,-0.00048) translate(-84,20)"/>
<use href="#gC" fill="#1c3d8c" transform="translate(468.30,244.30) scale(0.00403,-0.00041) translate(-84,20)"/>
<use href="#gA" fill="#3fa43a" transform="translate(468.30,243.70) scale(0.00393,-0.00057) translate(-51,0)"/>
<use href="#gT" fill="#b3163c" transform="translate(468.30,242.90) scale(0.00448,-0.00035) translate(-23,0)"/>
<use href="#gA" fill="#3fa43a" transform="translate(134.50,309.30) scale(0.00393,-0.00263) translate(-51,0)"/>
<use href="#gT" fill="#b3163c" transform="translate(134.50,305.60) scale(0.00448,-0.00568) translate(-23,0)"/>
<use href="#gC" fill="#1c3d8c" transform="translate(134.50,297.60) scale(0.00403,-0.01234) translate(-84,20)"/>
<use href="#gA" fill="#3fa43a" transform="translate(151.80,309.30) scale(0.00400,-0.00121) translate(-51,0)"/>
<use href="#gT" fill="#b3163c" transform="translate(151.80,307.60) scale(0.00456,-0.00149) translate(-23,0)"/>
<use href="#gC" fill="#1c3d8c" transform="translate(151.80,305.50) scale(0.00411,-0.00234) translate(-84,20)"/>
<use href="#gG" fill="#f1b300" transform="translate(151.80,302.10) scale(0.00398,-0.00428) translate(-84,20)"/>
<text x="140.3" y="309.35" font-size="6.0" textLength="9.4" lengthAdjust="spacingAndGlyphs" fill="#000">AG</text>
<text x="140.7" y="274.3" font-size="5.7" fill="#111">80</text>
<use href="#gA" fill="#3fa43a" transform="translate(128.90,309.30) scale(0.00393,-0.00064) translate(-51,0)"/>
<use href="#gG" fill="#f1b300" transform="translate(128.90,308.40) scale(0.00391,-0.00041) translate(-84,20)"/>
<use href="#gC" fill="#1c3d8c" transform="translate(128.90,307.80) scale(0.00403,-0.00041) translate(-84,20)"/>
<use href="#gT" fill="#b3163c" transform="translate(128.90,307.20) scale(0.00448,-0.00035) translate(-23,0)"/>
<use href="#gG" fill="#f1b300" transform="translate(157.50,309.30) scale(0.00391,-0.00048) translate(-84,20)"/>
<use href="#gC" fill="#1c3d8c" transform="translate(157.50,308.60) scale(0.00403,-0.00041) translate(-84,20)"/>
<use href="#gA" fill="#3fa43a" transform="translate(157.50,308.00) scale(0.00393,-0.00057) translate(-51,0)"/>
<use href="#gT" fill="#b3163c" transform="translate(157.50,307.20) scale(0.00448,-0.00035) translate(-23,0)"/>
<use href="#gT" fill="#b3163c" transform="translate(219.60,309.30) scale(0.00448,-0.00256) translate(-23,0)"/>
<use href="#gA" fill="#3fa43a" transform="translate(219.60,305.70) scale(0.00393,-0.00554) translate(-51,0)"/>
<use href="#gC" fill="#1c3d8c" transform="translate(219.60,297.90) scale(0.00403,-0.01683) translate(-84,20)"/>
<use href="#gC" fill="#1c3d8c" transform="translate(236.90,309.30) scale(0.00411,-0.00214) translate(-84,20)"/>
<use href="#gA" fill="#3fa43a" transform="translate(236.90,306.20) scale(0.00400,-0.00185) translate(-51,0)"/>
<use href="#gG" fill="#f1b300" transform="translate(236.90,303.60) scale(0.00398,-0.00276) translate(-84,20)"/>
<text x="225.4" y="309.35" font-size="6.0" textLength="9.4" lengthAdjust="spacingAndGlyphs" fill="#000">AG</text>
<text x="226.1" y="274.5" font-size="5.7" fill="#111">510</text>
<use href="#gA" fill="#3fa43a" transform="translate(214.00,309.30) scale(0.00393,-0.00064) translate(-51,0)"/>
<use href="#gG" fill="#f1b300" transform="translate(214.00,308.40) scale(0.00391,-0.00041) translate(-84,20)"/>
<use href="#gC" fill="#1c3d8c" transform="translate(214.00,307.80) scale(0.00403,-0.00041) translate(-84,20)"/>
<use href="#gT" fill="#b3163c" transform="translate(214.00,307.20) scale(0.00448,-0.00035) translate(-23,0)"/>
<use href="#gG" fill="#f1b300" transform="translate(242.60,309.30) scale(0.00391,-0.00055) translate(-84,20)"/>
<use href="#gA" fill="#3fa43a" transform="translate(242.60,308.50) scale(0.00393,-0.00085) translate(-51,0)"/>
<use href="#gT" fill="#b3163c" transform="translate(242.60,307.30) scale(0.00448,-0.00114) translate(-23,0)"/>
<use href="#gA" fill="#3fa43a" transform="translate(264.50,309.30) scale(0.00393,-0.00256) translate(-51,0)"/>
<use href="#gT" fill="#b3163c" transform="translate(264.50,305.70) scale(0.00448,-0.00610) translate(-23,0)"/>
<use href="#gC" fill="#1c3d8c" transform="translate(264.50,297.10) scale(0.00403,-0.00848) translate(-84,20)"/>
<use href="#gT" fill="#b3163c" transform="translate(281.80,309.30) scale(0.00456,-0.00227) translate(-23,0)"/>
<use href="#gA" fill="#3fa43a" transform="translate(281.80,306.10) scale(0.00400,-0.00248) translate(-51,0)"/>
<use href="#gC" fill="#1c3d8c" transform="translate(281.80,302.60) scale(0.00411,-0.00200) translate(-84,20)"/>
<use href="#gG" fill="#f1b300" transform="translate(281.80,299.70) scale(0.00398,-0.01628) translate(-84,20)"/>
<text x="270.3" y="309.35" font-size="6.0" textLength="9.4" lengthAdjust="spacingAndGlyphs" fill="#000">AG</text>
<text x="271.1" y="274.5" font-size="5.7" fill="#111">143</text>
<use href="#gA" fill="#3fa43a" transform="translate(258.90,309.30) scale(0.00393,-0.00064) translate(-51,0)"/>
<use href="#gG" fill="#f1b300" transform="translate(258.90,308.40) scale(0.00391,-0.00041) translate(-84,20)"/>
<use href="#gC" fill="#1c3d8c" transform="translate(258.90,307.80) scale(0.00403,-0.00041) translate(-84,20)"/>
<use href="#gT" fill="#b3163c" transform="translate(258.90,307.20) scale(0.00448,-0.00035) translate(-23,0)"/>
<use href="#gG" fill="#f1b300" transform="translate(287.50,309.30) scale(0.00391,-0.00048) translate(-84,20)"/>
<use href="#gC" fill="#1c3d8c" transform="translate(287.50,308.60) scale(0.00403,-0.00041) translate(-84,20)"/>
<use href="#gA" fill="#3fa43a" transform="translate(287.50,308.00) scale(0.00393,-0.00057) translate(-51,0)"/>
<use href="#gT" fill="#b3163c" transform="translate(287.50,307.20) scale(0.00448,-0.00035) translate(-23,0)"/>
<use href="#gA" fill="#3fa43a" transform="translate(353.80,309.30) scale(0.00393,-0.00256) translate(-51,0)"/>
<use href="#gT" fill="#b3163c" transform="translate(353.80,305.70) scale(0.00448,-0.00710) translate(-23,0)"/>
<use href="#gC" fill="#1c3d8c" transform="translate(353.80,295.70) scale(0.00403,-0.00931) translate(-84,20)"/>
<use href="#gA" fill="#3fa43a" transform="translate(371.10,309.30) scale(0.00400,-0.00227) translate(-51,0)"/>
<use href="#gC" fill="#1c3d8c" transform="translate(371.10,306.10) scale(0.00411,-0.00214) translate(-84,20)"/>
<use href="#gT" fill="#b3163c" transform="translate(371.10,303.00) scale(0.00456,-0.00156) translate(-23,0)"/>
<use href="#gG" fill="#f1b300" transform="translate(371.10,300.80) scale(0.00398,-0.00690) translate(-84,20)"/>
<text x="359.6" y="309.35" font-size="6.0" textLength="9.4" lengthAdjust="spacingAndGlyphs" fill="#000">AG</text>
<text x="360.4" y="274.5" font-size="5.7" fill="#111">256</text>
<use href="#gA" fill="#3fa43a" transform="translate(348.20,309.30) scale(0.00393,-0.00064) translate(-51,0)"/>
<use href="#gG" fill="#f1b300" transform="translate(348.20,308.40) scale(0.00391,-0.00041) translate(-84,20)"/>
<use href="#gC" fill="#1c3d8c" transform="translate(348.20,307.80) scale(0.00403,-0.00041) translate(-84,20)"/>
<use href="#gT" fill="#b3163c" transform="translate(348.20,307.20) scale(0.00448,-0.00035) translate(-23,0)"/>
<use href="#gG" fill="#f1b300" transform="translate(376.80,309.30) scale(0.00391,-0.00048) translate(-84,20)"/>
<use href="#gC" fill="#1c3d8c" transform="translate(376.80,308.60) scale(0.00403,-0.00041) translate(-84,20)"/>
<use href="#gA" fill="#3fa43a" transform="translate(376.80,308.00) scale(0.00393,-0.00057) translate(-51,0)"/>
<use href="#gT" fill="#b3163c" transform="translate(376.80,307.20) scale(0.00448,-0.00035) translate(-23,0)"/>
<use href="#gA" fill="#3fa43a" transform="translate(398.50,309.30) scale(0.00393,-0.00256) translate(-51,0)"/>
<use href="#gT" fill="#b3163c" transform="translate(398.50,305.70) scale(0.00448,-0.00610) translate(-23,0)"/>
<use href="#gC" fill="#1c3d8c" transform="translate(398.50,297.10) scale(0.00403,-0.00786) translate(-84,20)"/>
<use href="#gA" fill="#3fa43a" transform="translate(415.80,309.30) scale(0.00400,-0.00227) translate(-51,0)"/>
<use href="#gC" fill="#1c3d8c" transform="translate(415.80,306.10) scale(0.00411,-0.00241) translate(-84,20)"/>
<use href="#gT" fill="#b3163c" transform="translate(415.80,302.60) scale(0.00456,-0.00206) translate(-23,0)"/>
<use href="#gG" fill="#f1b300" transform="translate(415.80,299.70) scale(0.00398,-0.01690) translate(-84,20)"/>
<text x="404.3" y="309.35" font-size="6.0" textLength="9.4" lengthAdjust="spacingAndGlyphs" fill="#000">AG</text>
<text x="405.4" y="274.5" font-size="5.7" fill="#111">360</text>
<use href="#gA" fill="#3fa43a" transform="translate(392.90,309.30) scale(0.00393,-0.00064) translate(-51,0)"/>
<use href="#gG" fill="#f1b300" transform="translate(392.90,308.40) scale(0.00391,-0.00041) translate(-84,20)"/>
<use href="#gC" fill="#1c3d8c" transform="translate(392.90,307.80) scale(0.00403,-0.00041) translate(-84,20)"/>
<use href="#gT" fill="#b3163c" transform="translate(392.90,307.20) scale(0.00448,-0.00035) translate(-23,0)"/>
<use href="#gG" fill="#f1b300" transform="translate(421.50,309.30) scale(0.00391,-0.00048) translate(-84,20)"/>
<use href="#gC" fill="#1c3d8c" transform="translate(421.50,308.60) scale(0.00403,-0.00041) translate(-84,20)"/>
<use href="#gA" fill="#3fa43a" transform="translate(421.50,308.00) scale(0.00393,-0.00057) translate(-51,0)"/>
<use href="#gT" fill="#b3163c" transform="translate(421.50,307.20) scale(0.00448,-0.00035) translate(-23,0)"/>
<use href="#gA" fill="#3fa43a" transform="translate(134.50,363.40) scale(0.00393,-0.00241) translate(-51,0)"/>
<use href="#gT" fill="#b3163c" transform="translate(134.50,360.00) scale(0.00448,-0.00710) translate(-23,0)"/>
<use href="#gC" fill="#1c3d8c" transform="translate(134.50,350.00) scale(0.00403,-0.00924) translate(-84,20)"/>
<use href="#gT" fill="#b3163c" transform="translate(151.80,363.40) scale(0.00456,-0.00135) translate(-23,0)"/>
<use href="#gG" fill="#f1b300" transform="translate(151.80,361.50) scale(0.00398,-0.00138) translate(-84,20)"/>
<use href="#gA" fill="#3fa43a" transform="translate(151.80,359.50) scale(0.00400,-0.00177) translate(-51,0)"/>
<text x="140.3" y="363.45" font-size="6.0" textLength="9.4" lengthAdjust="spacingAndGlyphs" fill="#000">AG</text>
<text x="141.2" y="329.3" font-size="5.7" fill="#111">116</text>
<use href="#gA" fill="#3fa43a" transform="translate(128.90,363.40) scale(0.00393,-0.00064) translate(-51,0)"/>
<use href="#gG" fill="#f1b300" transform="translate(128.90,362.50) scale(0.00391,-0.00041) translate(-84,20)"/>
<use href="#gC" fill="#1c3d8c" transform="translate(128.90,361.90) scale(0.00403,-0.00041) translate(-84,20)"/>
<use href="#gT" fill="#b3163c" transform="translate(128.90,361.30) scale(0.00448,-0.00035) translate(-23,0)"/>
<use href="#gG" fill="#f1b300" transform="translate(157.50,363.40) scale(0.00391,-0.00055) translate(-84,20)"/>
<use href="#gC" fill="#1c3d8c" transform="translate(157.50,362.60) scale(0.00403,-0.00083) translate(-84,20)"/>
<use href="#gT" fill="#b3163c" transform="translate(157.50,361.40) scale(0.00448,-0.00142) translate(-23,0)"/>
<use href="#gA" fill="#3fa43a" transform="translate(219.60,363.40) scale(0.00393,-0.00248) translate(-51,0)"/>
<use href="#gC" fill="#1c3d8c" transform="translate(219.60,359.90) scale(0.00403,-0.00524) translate(-84,20)"/>
<use href="#gT" fill="#b3163c" transform="translate(219.60,352.30) scale(0.00448,-0.01306) translate(-23,0)"/>
<use href="#gT" fill="#b3163c" transform="translate(236.90,363.40) scale(0.00456,-0.00128) translate(-23,0)"/>
<use href="#gA" fill="#3fa43a" transform="translate(236.90,361.60) scale(0.00400,-0.00149) translate(-51,0)"/>
<use href="#gG" fill="#f1b300" transform="translate(236.90,359.50) scale(0.00398,-0.00172) translate(-84,20)"/>
<text x="225.4" y="363.45" font-size="6.0" textLength="9.4" lengthAdjust="spacingAndGlyphs" fill="#000">AG</text>
<text x="226.0" y="328.7" font-size="5.7" fill="#111">421</text>
<use href="#gA" fill="#3fa43a" transform="translate(214.00,363.40) scale(0.00393,-0.00064) translate(-51,0)"/>
<use href="#gG" fill="#f1b300" transform="translate(214.00,362.50) scale(0.00391,-0.00041) translate(-84,20)"/>
<use href="#gC" fill="#1c3d8c" transform="translate(214.00,361.90) scale(0.00403,-0.00041) translate(-84,20)"/>
<use href="#gT" fill="#b3163c" transform="translate(214.00,361.30) scale(0.00448,-0.00035) translate(-23,0)"/>
<use href="#gG" fill="#f1b300" transform="translate(242.60,363.40) scale(0.00391,-0.00055) translate(-84,20)"/>
<use href="#gA" fill="#3fa43a" transform="translate(242.60,362.60) scale(0.00393,-0.00085) translate(-51,0)"/>
<use href="#gT" fill="#b3163c" transform="translate(242.60,361.40) scale(0.00448,-0.00114) translate(-23,0)"/>
<use href="#gA" fill="#3fa43a" transform="translate(264.50,363.40) scale(0.00393,-0.00185) translate(-51,0)"/>
<use href="#gT" fill="#b3163c" transform="translate(264.50,360.80) scale(0.00448,-0.00802) translate(-23,0)"/>
<use href="#gC" fill="#1c3d8c" transform="translate(264.50,349.50) scale(0.00403,-0.01628) translate(-84,20)"/>
<use href="#gG" fill="#f1b300" transform="translate(281.80,363.40) scale(0.00398,-0.00193) translate(-84,20)"/>
<use href="#gT" fill="#b3163c" transform="translate(281.80,360.60) scale(0.00456,-0.00149) translate(-23,0)"/>
<use href="#gC" fill="#1c3d8c" transform="translate(281.80,358.50) scale(0.00411,-0.00145) translate(-84,20)"/>
<use href="#gA" fill="#3fa43a" transform="translate(281.80,356.40) scale(0.00400,-0.00369) translate(-51,0)"/>
<text x="270.3" y="363.45" font-size="6.0" textLength="9.4" lengthAdjust="spacingAndGlyphs" fill="#000">AG</text>
<text x="271.0" y="328.7" font-size="5.7" fill="#111">204</text>
<use href="#gA" fill="#3fa43a" transform="translate(258.90,363.40) scale(0.00393,-0.00064) translate(-51,0)"/>
<use href="#gG" fill="#f1b300" transform="translate(258.90,362.50) scale(0.00391,-0.00041) translate(-84,20)"/>
<use href="#gC" fill="#1c3d8c" transform="translate(258.90,361.90) scale(0.00403,-0.00041) translate(-84,20)"/>
<use href="#gT" fill="#b3163c" transform="translate(258.90,361.30) scale(0.00448,-0.00035) translate(-23,0)"/>
<use href="#gG" fill="#f1b300" transform="translate(287.50,363.40) scale(0.00391,-0.00048) translate(-84,20)"/>
<use href="#gC" fill="#1c3d8c" transform="translate(287.50,362.70) scale(0.00403,-0.00041) translate(-84,20)"/>
<use href="#gA" fill="#3fa43a" transform="translate(287.50,362.10) scale(0.00393,-0.00057) translate(-51,0)"/>
<use href="#gT" fill="#b3163c" transform="translate(287.50,361.30) scale(0.00448,-0.00035) translate(-23,0)"/>
<use href="#gA" fill="#3fa43a" transform="translate(353.80,363.40) scale(0.00393,-0.00185) translate(-51,0)"/>
<use href="#gT" fill="#b3163c" transform="translate(353.80,360.80) scale(0.00448,-0.00617) translate(-23,0)"/>
<use href="#gC" fill="#1c3d8c" transform="translate(353.80,352.10) scale(0.00403,-0.01379) translate(-84,20)"/>
<use href="#gT" fill="#b3163c" transform="translate(371.10,363.40) scale(0.00456,-0.00170) translate(-23,0)"/>
<use href="#gC" fill="#1c3d8c" transform="translate(371.10,361.00) scale(0.00411,-0.00241) translate(-84,20)"/>
<use href="#gG" fill="#f1b300" transform="translate(371.10,357.50) scale(0.00398,-0.00172) translate(-84,20)"/>
<use href="#gA" fill="#3fa43a" transform="translate(371.10,355.00) scale(0.00400,-0.00646) translate(-51,0)"/>
<text x="359.6" y="363.45" font-size="6.0" textLength="9.4" lengthAdjust="spacingAndGlyphs" fill="#000">AG</text>
<text x="360.0" y="328.7" font-size="5.7" fill="#111">435</text>
<use href="#gA" fill="#3fa43a" transform="translate(348.20,363.40) scale(0.00393,-0.00064) translate(-51,0)"/>
<use href="#gG" fill="#f1b300" transform="translate(348.20,362.50) scale(0.00391,-0.00041) translate(-84,20)"/>
<use href="#gC" fill="#1c3d8c" transform="translate(348.20,361.90) scale(0.00403,-0.00041) translate(-84,20)"/>
<use href="#gT" fill="#b3163c" transform="translate(348.20,361.30) scale(0.00448,-0.00035) translate(-23,0)"/>
<use href="#gG" fill="#f1b300" transform="translate(376.80,363.40) scale(0.00391,-0.00048) translate(-84,20)"/>
<use href="#gC" fill="#1c3d8c" transform="translate(376.80,362.70) scale(0.00403,-0.00041) translate(-84,20)"/>
<use href="#gA" fill="#3fa43a" transform="translate(376.80,362.10) scale(0.00393,-0.00057) translate(-51,0)"/>
<use href="#gT" fill="#b3163c" transform="translate(376.80,361.30) scale(0.00448,-0.00035) translate(-23,0)"/>
<use href="#gA" fill="#3fa43a" transform="translate(398.50,363.40) scale(0.00393,-0.00185) translate(-51,0)"/>
<use href="#gT" fill="#b3163c" transform="translate(398.50,360.80) scale(0.00448,-0.00738) translate(-23,0)"/>
<use href="#gC" fill="#1c3d8c" transform="translate(398.50,350.40) scale(0.00403,-0.01145) translate(-84,20)"/>
<use href="#gG" fill="#f1b300" transform="translate(415.80,363.40) scale(0.00398,-0.00097) translate(-84,20)"/>
<use href="#gT" fill="#b3163c" transform="translate(415.80,362.00) scale(0.00456,-0.00149) translate(-23,0)"/>
<use href="#gC" fill="#1c3d8c" transform="translate(415.80,359.90) scale(0.00411,-0.00359) translate(-84,20)"/>
<use href="#gA" fill="#3fa43a" transform="translate(415.80,354.70) scale(0.00400,-0.00561) translate(-51,0)"/>
<text x="404.3" y="363.45" font-size="6.0" textLength="9.4" lengthAdjust="spacingAndGlyphs" fill="#000">AG</text>
<text x="405.0" y="328.7" font-size="5.7" fill="#111">534</text>
<use href="#gA" fill="#3fa43a" transform="translate(392.90,363.40) scale(0.00393,-0.00064) translate(-51,0)"/>
<use href="#gG" fill="#f1b300" transform="translate(392.90,362.50) scale(0.00391,-0.00041) translate(-84,20)"/>
<use href="#gC" fill="#1c3d8c" transform="translate(392.90,361.90) scale(0.00403,-0.00041) translate(-84,20)"/>
<use href="#gT" fill="#b3163c" transform="translate(392.90,361.30) scale(0.00448,-0.00035) translate(-23,0)"/>
<use href="#gG" fill="#f1b300" transform="translate(421.50,363.40) scale(0.00391,-0.00048) translate(-84,20)"/>
<use href="#gC" fill="#1c3d8c" transform="translate(421.50,362.70) scale(0.00403,-0.00041) translate(-84,20)"/>
<use href="#gA" fill="#3fa43a" transform="translate(421.50,362.10) scale(0.00393,-0.00057) translate(-51,0)"/>
<use href="#gT" fill="#b3163c" transform="translate(421.50,361.30) scale(0.00448,-0.00035) translate(-23,0)"/>
<text x="190.2" y="311.0" font-size="7.4" text-anchor="middle" fill="#222">no data</text>
<text x="190.2" y="320.1" font-size="7.4" text-anchor="middle" fill="#222">available</text>
<text x="322.0" y="311.0" font-size="7.4" text-anchor="middle" fill="#222">no data</text>
<text x="322.0" y="320.1" font-size="7.4" text-anchor="middle" fill="#222">available</text>
<text x="457.7" y="311.0" font-size="7.4" text-anchor="middle" fill="#222">no data</text>
<text x="457.7" y="320.1" font-size="7.4" text-anchor="middle" fill="#222">available</text>
<line x1="127.99999999999999" y1="371.6" x2="132.29999999999998" y2="371.6" stroke="#666" stroke-width="0.7"/>
<text x="132.7" y="373.4" font-size="5.4" textLength="13.6" lengthAdjust="spacingAndGlyphs" fill="#555">intron</text>
<line x1="146.5" y1="371.6" x2="150.5" y2="371.6" stroke="#666" stroke-width="0.7"/>
<rect x="150.5" y="368.1" width="15.4" height="7.3" fill="#c4c4c6" stroke="#333" stroke-width="0.8"/>
<text x="152.5" y="373.6" font-size="5.4" textLength="10.8" lengthAdjust="spacingAndGlyphs" fill="#222">exon</text>
<line x1="127.99999999999999" y1="380.5" x2="166.0" y2="380.5" stroke="#111" stroke-width="1.5"/>
<line x1="136.7" y1="380.5" x2="136.7" y2="383.2" stroke="#111" stroke-width="0.9"/>
<line x1="147.5" y1="380.5" x2="147.5" y2="385.2" stroke="#111" stroke-width="0.9"/>
<line x1="154.39999999999998" y1="380.5" x2="154.39999999999998" y2="383.2" stroke="#111" stroke-width="0.9"/>
<text x="137.1" y="390.3" font-size="6.6" text-anchor="middle" fill="#222">-3</text>
<text x="147.0" y="393.5" font-size="6.3" text-anchor="middle" fill="#222">-1</text>
<text x="154.5" y="390.3" font-size="6.6" text-anchor="middle" fill="#222">+1</text>
<text x="147.1" y="404.0" font-size="8.7" text-anchor="middle" textLength="20.8" lengthAdjust="spacingAndGlyphs" fill="#333">Relative</text>
<text x="147.1" y="413.4" font-size="8.7" text-anchor="middle" textLength="21.0" lengthAdjust="spacingAndGlyphs" fill="#333">position</text>
<line x1="170.3" y1="371.6" x2="174.6" y2="371.6" stroke="#666" stroke-width="0.7"/>
<text x="175.0" y="373.4" font-size="5.4" textLength="13.6" lengthAdjust="spacingAndGlyphs" fill="#555">intron</text>
<line x1="188.8" y1="371.6" x2="192.8" y2="371.6" stroke="#666" stroke-width="0.7"/>
<rect x="192.8" y="368.1" width="15.4" height="7.3" fill="#c4c4c6" stroke="#333" stroke-width="0.8"/>
<text x="194.8" y="373.6" font-size="5.4" textLength="10.8" lengthAdjust="spacingAndGlyphs" fill="#222">exon</text>
<line x1="170.3" y1="380.5" x2="208.3" y2="380.5" stroke="#111" stroke-width="1.5"/>
<line x1="179.0" y1="380.5" x2="179.0" y2="383.2" stroke="#111" stroke-width="0.9"/>
<line x1="189.8" y1="380.5" x2="189.8" y2="385.2" stroke="#111" stroke-width="0.9"/>
<line x1="196.7" y1="380.5" x2="196.7" y2="383.2" stroke="#111" stroke-width="0.9"/>
<text x="179.4" y="390.3" font-size="6.6" text-anchor="middle" fill="#222">-3</text>
<text x="189.3" y="393.5" font-size="6.3" text-anchor="middle" fill="#222">-1</text>
<text x="196.8" y="390.3" font-size="6.6" text-anchor="middle" fill="#222">+1</text>
<text x="189.4" y="404.0" font-size="8.7" text-anchor="middle" textLength="20.8" lengthAdjust="spacingAndGlyphs" fill="#333">Relative</text>
<text x="189.4" y="413.4" font-size="8.7" text-anchor="middle" textLength="21.0" lengthAdjust="spacingAndGlyphs" fill="#333">position</text>
<line x1="213.10000000000002" y1="371.6" x2="217.4" y2="371.6" stroke="#666" stroke-width="0.7"/>
<text x="217.8" y="373.4" font-size="5.4" textLength="13.6" lengthAdjust="spacingAndGlyphs" fill="#555">intron</text>
<line x1="231.60000000000002" y1="371.6" x2="235.60000000000002" y2="371.6" stroke="#666" stroke-width="0.7"/>
<rect x="235.60000000000002" y="368.1" width="15.4" height="7.3" fill="#c4c4c6" stroke="#333" stroke-width="0.8"/>
<text x="237.6" y="373.6" font-size="5.4" textLength="10.8" lengthAdjust="spacingAndGlyphs" fill="#222">exon</text>
<line x1="213.10000000000002" y1="380.5" x2="251.10000000000002" y2="380.5" stroke="#111" stroke-width="1.5"/>
<line x1="221.8" y1="380.5" x2="221.8" y2="383.2" stroke="#111" stroke-width="0.9"/>
<line x1="232.60000000000002" y1="380.5" x2="232.60000000000002" y2="385.2" stroke="#111" stroke-width="0.9"/>
<line x1="239.5" y1="380.5" x2="239.5" y2="383.2" stroke="#111" stroke-width="0.9"/>
<text x="222.2" y="390.3" font-size="6.6" text-anchor="middle" fill="#222">-3</text>
<text x="232.1" y="393.5" font-size="6.3" text-anchor="middle" fill="#222">-1</text>
<text x="239.6" y="390.3" font-size="6.6" text-anchor="middle" fill="#222">+1</text>
<text x="232.2" y="404.0" font-size="8.7" text-anchor="middle" textLength="20.8" lengthAdjust="spacingAndGlyphs" fill="#333">Relative</text>
<text x="232.2" y="413.4" font-size="8.7" text-anchor="middle" textLength="21.0" lengthAdjust="spacingAndGlyphs" fill="#333">position</text>
<line x1="258.0" y1="371.6" x2="262.3" y2="371.6" stroke="#666" stroke-width="0.7"/>
<text x="262.7" y="373.4" font-size="5.4" textLength="13.6" lengthAdjust="spacingAndGlyphs" fill="#555">intron</text>
<line x1="276.5" y1="371.6" x2="280.5" y2="371.6" stroke="#666" stroke-width="0.7"/>
<rect x="280.5" y="368.1" width="15.4" height="7.3" fill="#c4c4c6" stroke="#333" stroke-width="0.8"/>
<text x="282.5" y="373.6" font-size="5.4" textLength="10.8" lengthAdjust="spacingAndGlyphs" fill="#222">exon</text>
<line x1="258.0" y1="380.5" x2="296.0" y2="380.5" stroke="#111" stroke-width="1.5"/>
<line x1="266.7" y1="380.5" x2="266.7" y2="383.2" stroke="#111" stroke-width="0.9"/>
<line x1="277.5" y1="380.5" x2="277.5" y2="385.2" stroke="#111" stroke-width="0.9"/>
<line x1="284.4" y1="380.5" x2="284.4" y2="383.2" stroke="#111" stroke-width="0.9"/>
<text x="267.1" y="390.3" font-size="6.6" text-anchor="middle" fill="#222">-3</text>
<text x="277.0" y="393.5" font-size="6.3" text-anchor="middle" fill="#222">-1</text>
<text x="284.5" y="390.3" font-size="6.6" text-anchor="middle" fill="#222">+1</text>
<text x="277.1" y="404.0" font-size="8.7" text-anchor="middle" textLength="20.8" lengthAdjust="spacingAndGlyphs" fill="#333">Relative</text>
<text x="277.1" y="413.4" font-size="8.7" text-anchor="middle" textLength="21.0" lengthAdjust="spacingAndGlyphs" fill="#333">position</text>
<line x1="302.8" y1="371.6" x2="307.1" y2="371.6" stroke="#666" stroke-width="0.7"/>
<text x="307.5" y="373.4" font-size="5.4" textLength="13.6" lengthAdjust="spacingAndGlyphs" fill="#555">intron</text>
<line x1="321.3" y1="371.6" x2="325.3" y2="371.6" stroke="#666" stroke-width="0.7"/>
<rect x="325.3" y="368.1" width="15.4" height="7.3" fill="#c4c4c6" stroke="#333" stroke-width="0.8"/>
<text x="327.3" y="373.6" font-size="5.4" textLength="10.8" lengthAdjust="spacingAndGlyphs" fill="#222">exon</text>
<line x1="302.8" y1="380.5" x2="340.8" y2="380.5" stroke="#111" stroke-width="1.5"/>
<line x1="311.5" y1="380.5" x2="311.5" y2="383.2" stroke="#111" stroke-width="0.9"/>
<line x1="322.3" y1="380.5" x2="322.3" y2="385.2" stroke="#111" stroke-width="0.9"/>
<line x1="329.2" y1="380.5" x2="329.2" y2="383.2" stroke="#111" stroke-width="0.9"/>
<text x="311.9" y="390.3" font-size="6.6" text-anchor="middle" fill="#222">-3</text>
<text x="321.8" y="393.5" font-size="6.3" text-anchor="middle" fill="#222">-1</text>
<text x="329.3" y="390.3" font-size="6.6" text-anchor="middle" fill="#222">+1</text>
<text x="321.9" y="404.0" font-size="8.7" text-anchor="middle" textLength="20.8" lengthAdjust="spacingAndGlyphs" fill="#333">Relative</text>
<text x="321.9" y="413.4" font-size="8.7" text-anchor="middle" textLength="21.0" lengthAdjust="spacingAndGlyphs" fill="#333">position</text>
<line x1="347.3" y1="371.6" x2="351.6" y2="371.6" stroke="#666" stroke-width="0.7"/>
<text x="352.0" y="373.4" font-size="5.4" textLength="13.6" lengthAdjust="spacingAndGlyphs" fill="#555">intron</text>
<line x1="365.8" y1="371.6" x2="369.8" y2="371.6" stroke="#666" stroke-width="0.7"/>
<rect x="369.8" y="368.1" width="15.4" height="7.3" fill="#c4c4c6" stroke="#333" stroke-width="0.8"/>
<text x="371.8" y="373.6" font-size="5.4" textLength="10.8" lengthAdjust="spacingAndGlyphs" fill="#222">exon</text>
<line x1="347.3" y1="380.5" x2="385.3" y2="380.5" stroke="#111" stroke-width="1.5"/>
<line x1="356.0" y1="380.5" x2="356.0" y2="383.2" stroke="#111" stroke-width="0.9"/>
<line x1="366.8" y1="380.5" x2="366.8" y2="385.2" stroke="#111" stroke-width="0.9"/>
<line x1="373.7" y1="380.5" x2="373.7" y2="383.2" stroke="#111" stroke-width="0.9"/>
<text x="356.4" y="390.3" font-size="6.6" text-anchor="middle" fill="#222">-3</text>
<text x="366.3" y="393.5" font-size="6.3" text-anchor="middle" fill="#222">-1</text>
<text x="373.8" y="390.3" font-size="6.6" text-anchor="middle" fill="#222">+1</text>
<text x="366.4" y="404.0" font-size="8.7" text-anchor="middle" textLength="20.8" lengthAdjust="spacingAndGlyphs" fill="#333">Relative</text>
<text x="366.4" y="413.4" font-size="8.7" text-anchor="middle" textLength="21.0" lengthAdjust="spacingAndGlyphs" fill="#333">position</text>
<line x1="392.0" y1="371.6" x2="396.3" y2="371.6" stroke="#666" stroke-width="0.7"/>
<text x="396.7" y="373.4" font-size="5.4" textLength="13.6" lengthAdjust="spacingAndGlyphs" fill="#555">intron</text>
<line x1="410.5" y1="371.6" x2="414.5" y2="371.6" stroke="#666" stroke-width="0.7"/>
<rect x="414.5" y="368.1" width="15.4" height="7.3" fill="#c4c4c6" stroke="#333" stroke-width="0.8"/>
<text x="416.5" y="373.6" font-size="5.4" textLength="10.8" lengthAdjust="spacingAndGlyphs" fill="#222">exon</text>
<line x1="392.0" y1="380.5" x2="430.0" y2="380.5" stroke="#111" stroke-width="1.5"/>
<line x1="400.7" y1="380.5" x2="400.7" y2="383.2" stroke="#111" stroke-width="0.9"/>
<line x1="411.5" y1="380.5" x2="411.5" y2="385.2" stroke="#111" stroke-width="0.9"/>
<line x1="418.4" y1="380.5" x2="418.4" y2="383.2" stroke="#111" stroke-width="0.9"/>
<text x="401.1" y="390.3" font-size="6.6" text-anchor="middle" fill="#222">-3</text>
<text x="411.0" y="393.5" font-size="6.3" text-anchor="middle" fill="#222">-1</text>
<text x="418.5" y="390.3" font-size="6.6" text-anchor="middle" fill="#222">+1</text>
<text x="411.1" y="404.0" font-size="8.7" text-anchor="middle" textLength="20.8" lengthAdjust="spacingAndGlyphs" fill="#333">Relative</text>
<text x="411.1" y="413.4" font-size="8.7" text-anchor="middle" textLength="21.0" lengthAdjust="spacingAndGlyphs" fill="#333">position</text>
<line x1="438.8" y1="371.6" x2="443.1" y2="371.6" stroke="#666" stroke-width="0.7"/>
<text x="443.5" y="373.4" font-size="5.4" textLength="13.6" lengthAdjust="spacingAndGlyphs" fill="#555">intron</text>
<line x1="457.3" y1="371.6" x2="461.3" y2="371.6" stroke="#666" stroke-width="0.7"/>
<rect x="461.3" y="368.1" width="15.4" height="7.3" fill="#c4c4c6" stroke="#333" stroke-width="0.8"/>
<text x="463.3" y="373.6" font-size="5.4" textLength="10.8" lengthAdjust="spacingAndGlyphs" fill="#222">exon</text>
<line x1="438.8" y1="380.5" x2="476.8" y2="380.5" stroke="#111" stroke-width="1.5"/>
<line x1="447.5" y1="380.5" x2="447.5" y2="383.2" stroke="#111" stroke-width="0.9"/>
<line x1="458.3" y1="380.5" x2="458.3" y2="385.2" stroke="#111" stroke-width="0.9"/>
<line x1="465.2" y1="380.5" x2="465.2" y2="383.2" stroke="#111" stroke-width="0.9"/>
<text x="447.9" y="390.3" font-size="6.6" text-anchor="middle" fill="#222">-3</text>
<text x="457.8" y="393.5" font-size="6.3" text-anchor="middle" fill="#222">-1</text>
<text x="465.3" y="390.3" font-size="6.6" text-anchor="middle" fill="#222">+1</text>
<text x="457.9" y="404.0" font-size="8.7" text-anchor="middle" textLength="20.8" lengthAdjust="spacingAndGlyphs" fill="#333">Relative</text>
<text x="457.9" y="413.4" font-size="8.7" text-anchor="middle" textLength="21.0" lengthAdjust="spacingAndGlyphs" fill="#333">position</text>
<line x1="482.8" y1="146.4" x2="482.8" y2="245" stroke="#444" stroke-width="1.1"/>
<text transform="translate(491,195.4) rotate(-90)" font-size="7" text-anchor="middle" fill="#222" textLength="14.8" lengthAdjust="spacingAndGlyphs">K562</text>
<line x1="482.8" y1="265.7" x2="482.8" y2="361.4" stroke="#444" stroke-width="1.1"/>
<text transform="translate(490.6,314.2) rotate(-90)" font-size="7" text-anchor="middle" fill="#222" textLength="69.2" lengthAdjust="spacingAndGlyphs">primary patient samples</text>
<text x="6.4" y="432.4" font-size="12.2" font-weight="bold" fill="#000">C</text>
<text x="133.5" y="432.0" font-size="12.2" font-weight="bold" fill="#000">D</text>
<path d="M31.300000000000004,437.9 H34.2 V465.0 H31.300000000000004" stroke="#222" stroke-width="1.2" fill="none"/>
<text x="27.9" y="440.1" font-size="6.9" text-anchor="end" fill="#222">3.5</text>
<text x="27.9" y="467.2" font-size="6.9" text-anchor="end" fill="#222">0</text>
<path d="M31.300000000000004,475.2 H34.2 V501.8 H31.300000000000004" stroke="#222" stroke-width="1.2" fill="none"/>
<text x="27.9" y="477.4" font-size="6.9" text-anchor="end" fill="#222">2.6</text>
<text x="27.9" y="504.0" font-size="6.9" text-anchor="end" fill="#222">0</text>
<path d="M31.300000000000004,511.9 H34.2 V538.9 H31.300000000000004" stroke="#222" stroke-width="1.2" fill="none"/>
<text x="27.9" y="514.1" font-size="6.9" text-anchor="end" fill="#222">3.2</text>
<text x="27.9" y="541.1" font-size="6.9" text-anchor="end" fill="#222">0</text>
<path d="M156.0,437.9 H158.9 V465.0 H156.0" stroke="#222" stroke-width="1.2" fill="none"/>
<text x="153.0" y="440.1" font-size="6.9" text-anchor="end" fill="#222">17</text>
<text x="153.0" y="467.2" font-size="6.9" text-anchor="end" fill="#222">0</text>
<path d="M156.0,475.2 H158.9 V501.8 H156.0" stroke="#222" stroke-width="1.2" fill="none"/>
<text x="153.0" y="477.4" font-size="6.9" text-anchor="end" fill="#222">21</text>
<text x="153.0" y="504.0" font-size="6.9" text-anchor="end" fill="#222">0</text>
<path d="M156.0,511.9 H158.9 V538.9 H156.0" stroke="#222" stroke-width="1.2" fill="none"/>
<text x="153.0" y="514.1" font-size="6.9" text-anchor="end" fill="#222">21</text>
<text x="153.0" y="541.1" font-size="6.9" text-anchor="end" fill="#222">0</text>
<text transform="translate(14.2,489) rotate(-90)" font-size="8.2" text-anchor="middle" fill="#333" textLength="43" lengthAdjust="spacingAndGlyphs">Read coverage</text>
<text transform="translate(141.3,488.6) rotate(-90)" font-size="8.2" text-anchor="middle" fill="#333" textLength="42" lengthAdjust="spacingAndGlyphs">Read coverage</text>
<text x="40.1" y="443.1" font-size="5.6" fill="#111">WT</text>
<text x="166.8" y="443.1" font-size="5.6" fill="#111">WT</text>
<text x="40.1" y="480.4" font-size="5.6" fill="#111">I24T</text>
<text x="166.8" y="480.4" font-size="5.6" fill="#111">I24T</text>
<text x="40.1" y="517.1" font-size="5.6" font-weight="bold" fill="#111">S34F</text>
<text x="166.8" y="517.1" font-size="5.6" font-weight="bold" fill="#111">S34F</text>
<path d="M38.5,465.0 L39.6,461 L40.8,456 L42,451.5 L43.2,446.5 L44.3,443.1 L44.9,443.6 L45.2,465.0 Z" fill="#c4c4ca"/>
<rect x="46.0" y="464.34" width="1.65" height="0.66" fill="#c4c4ca"/><rect x="47.6" y="463.65" width="1.65" height="1.35" fill="#c4c4ca"/><rect x="49.2" y="463.94" width="1.65" height="1.06" fill="#c4c4ca"/><rect x="50.8" y="464.24" width="1.65" height="0.76" fill="#c4c4ca"/><rect x="52.4" y="463.55" width="1.65" height="1.45" fill="#c4c4ca"/><rect x="54.0" y="463.85" width="1.65" height="1.16" fill="#c4c4ca"/><rect x="55.6" y="464.14" width="1.65" height="0.86" fill="#c4c4ca"/><rect x="57.2" y="463.45" width="1.65" height="1.55" fill="#c4c4ca"/><rect x="58.8" y="463.75" width="1.65" height="1.25" fill="#c4c4ca"/><rect x="60.4" y="464.04" width="1.65" height="0.96" fill="#c4c4ca"/><rect x="62.0" y="464.34" width="1.65" height="0.66" fill="#c4c4ca"/><rect x="63.6" y="463.65" width="1.65" height="1.35" fill="#c4c4ca"/><rect x="65.2" y="463.94" width="1.65" height="1.06" fill="#c4c4ca"/><rect x="70.0" y="463.85" width="1.65" height="1.16" fill="#c4c4ca"/><rect x="71.6" y="464.14" width="1.65" height="0.86" fill="#c4c4ca"/><rect x="73.2" y="463.45" width="1.65" height="1.55" fill="#c4c4ca"/><rect x="74.8" y="463.75" width="1.65" height="1.25" fill="#c4c4ca"/><rect x="78.0" y="464.34" width="1.65" height="0.66" fill="#c4c4ca"/><rect x="79.6" y="463.65" width="1.65" height="1.35" fill="#c4c4ca"/><rect x="81.2" y="463.94" width="1.65" height="1.06" fill="#c4c4ca"/><rect x="82.8" y="464.24" width="1.65" height="0.76" fill="#c4c4ca"/><rect x="87.6" y="464.14" width="1.65" height="0.86" fill="#c4c4ca"/><rect x="89.2" y="463.45" width="1.65" height="1.55" fill="#c4c4ca"/><rect x="90.8" y="463.75" width="1.65" height="1.25" fill="#c4c4ca"/><rect x="98.8" y="464.24" width="1.65" height="0.76" fill="#c4c4ca"/>
<path d="M100.9,465.0 L101.1,460.4 L101.6,460.6 L102.4,462.5 L103.3,461.5 L104,459 L104.6,461.5 L104.9,465.0 Z" fill="#c4c4ca"/>
<path d="M107,465.0 L107.3,463.8 L112,463.8 L112.4,465.0 Z" fill="#c4c4ca" opacity="0.8"/>
<path d="M113.1,465.0 L113.2,441 L113.8,441 L114.3,445.5 L115,446.5 L116,445 L116.8,443 L117.4,442.8 L118,444 L118.6,447 L119.5,450 L120.2,455 L120.6,460 L120.8,465.0 Z" fill="#c4c4ca"/>
<rect x="123.4" y="461" width="1.0" height="4" fill="#c4c4ca"/>
<path d="M38.6,501.8 L39.1,497 L39.8,493.5 L40.6,491.5 L41.3,490.5 L41.9,486 L42.6,481 L43.2,478.2 L43.8,477.8 L44.4,479.5 L45,481 L45.2,501.8 Z" fill="#6cb040"/>
<rect x="46.0" y="501.14" width="1.65" height="0.66" fill="#6cb040"/><rect x="47.6" y="500.45" width="1.65" height="1.35" fill="#6cb040"/><rect x="49.2" y="500.74" width="1.65" height="1.06" fill="#6cb040"/><rect x="50.8" y="501.04" width="1.65" height="0.76" fill="#6cb040"/><rect x="52.4" y="500.35" width="1.65" height="1.45" fill="#6cb040"/><rect x="54.0" y="500.65" width="1.65" height="1.16" fill="#6cb040"/><rect x="55.6" y="500.94" width="1.65" height="0.86" fill="#6cb040"/><rect x="57.2" y="500.25" width="1.65" height="1.55" fill="#6cb040"/><rect x="58.8" y="500.55" width="1.65" height="1.25" fill="#6cb040"/><rect x="60.4" y="500.84" width="1.65" height="0.96" fill="#6cb040"/><rect x="62.0" y="501.14" width="1.65" height="0.66" fill="#6cb040"/><rect x="63.6" y="500.45" width="1.65" height="1.35" fill="#6cb040"/><rect x="65.2" y="500.74" width="1.65" height="1.06" fill="#6cb040"/><rect x="70.0" y="500.65" width="1.65" height="1.16" fill="#6cb040"/><rect x="71.6" y="500.94" width="1.65" height="0.86" fill="#6cb040"/><rect x="73.2" y="500.25" width="1.65" height="1.55" fill="#6cb040"/><rect x="74.8" y="500.55" width="1.65" height="1.25" fill="#6cb040"/><rect x="78.0" y="501.14" width="1.65" height="0.66" fill="#6cb040"/><rect x="79.6" y="500.45" width="1.65" height="1.35" fill="#6cb040"/><rect x="81.2" y="500.74" width="1.65" height="1.06" fill="#6cb040"/><rect x="82.8" y="501.04" width="1.65" height="0.76" fill="#6cb040"/><rect x="87.6" y="500.94" width="1.65" height="0.86" fill="#6cb040"/><rect x="89.2" y="500.25" width="1.65" height="1.55" fill="#6cb040"/><rect x="90.8" y="500.55" width="1.65" height="1.25" fill="#6cb040"/><rect x="98.8" y="501.04" width="1.65" height="0.76" fill="#6cb040"/>
<path d="M59,501.8 L60,500 L63,499.8 L65,500.3 L66,501.8 Z" fill="#6cb040"/>
<path d="M100.7,501.8 L100.8,491.3 L102,491.1 L102.4,492.5 L103,491.2 L103.9,491.5 L104,501.8 Z" fill="#6cb040"/>
<path d="M107.8,501.8 L108.3,500.6 L111.4,500.6 L111.8,501.8 Z" fill="#6cb040"/>
<path d="M113.1,501.8 L113.2,482 L113.8,480 L114.4,483 L115.2,481 L116,479.4 L116.6,478.5 L117.1,478.2 L117.8,479.8 L118.5,482.5 L119.2,485 L119.8,488 L120.6,490 L120.9,501.8 Z" fill="#6cb040"/>
<rect x="123.2" y="497.5" width="0.9" height="4.3" fill="#6cb040" opacity="0.7"/>
<path d="M38.6,538.9 L39.3,530 L40.4,526.8 L41.3,524.4 L41.9,526.5 L42.6,529.2 L43.3,523 L44,518.5 L44.5,517.4 L45,518.5 L45.2,538.9 Z" fill="#2e6a4c"/>
<rect x="46.0" y="538.24" width="1.65" height="0.66" fill="#2e6a4c"/><rect x="47.6" y="537.55" width="1.65" height="1.35" fill="#2e6a4c"/><rect x="49.2" y="537.84" width="1.65" height="1.06" fill="#2e6a4c"/><rect x="50.8" y="538.14" width="1.65" height="0.76" fill="#2e6a4c"/><rect x="52.4" y="537.45" width="1.65" height="1.45" fill="#2e6a4c"/><rect x="54.0" y="537.75" width="1.65" height="1.16" fill="#2e6a4c"/><rect x="55.6" y="538.04" width="1.65" height="0.86" fill="#2e6a4c"/><rect x="57.2" y="537.35" width="1.65" height="1.55" fill="#2e6a4c"/><rect x="58.8" y="537.65" width="1.65" height="1.25" fill="#2e6a4c"/><rect x="60.4" y="537.94" width="1.65" height="0.96" fill="#2e6a4c"/><rect x="62.0" y="538.24" width="1.65" height="0.66" fill="#2e6a4c"/><rect x="63.6" y="537.55" width="1.65" height="1.35" fill="#2e6a4c"/><rect x="65.2" y="537.84" width="1.65" height="1.06" fill="#2e6a4c"/><rect x="70.0" y="537.75" width="1.65" height="1.16" fill="#2e6a4c"/><rect x="71.6" y="538.04" width="1.65" height="0.86" fill="#2e6a4c"/><rect x="73.2" y="537.35" width="1.65" height="1.55" fill="#2e6a4c"/><rect x="74.8" y="537.65" width="1.65" height="1.25" fill="#2e6a4c"/><rect x="78.0" y="538.24" width="1.65" height="0.66" fill="#2e6a4c"/><rect x="79.6" y="537.55" width="1.65" height="1.35" fill="#2e6a4c"/><rect x="81.2" y="537.84" width="1.65" height="1.06" fill="#2e6a4c"/><rect x="82.8" y="538.14" width="1.65" height="0.76" fill="#2e6a4c"/><rect x="87.6" y="538.04" width="1.65" height="0.86" fill="#2e6a4c"/><rect x="89.2" y="537.35" width="1.65" height="1.55" fill="#2e6a4c"/><rect x="90.8" y="537.65" width="1.65" height="1.25" fill="#2e6a4c"/><rect x="98.8" y="538.14" width="1.65" height="0.76" fill="#2e6a4c"/>
<path d="M100.7,538.9 L100.9,527 L101.3,526.8 L101.8,530 L102.6,533 L103.2,529 L103.5,527.3 L103.9,530 L104,538.9 Z" fill="#2e6a4c"/>
<path d="M113.1,538.9 L113.3,523 L114.2,521 L114.7,515 L115,512.4 L115.4,516 L116.2,521 L117,519 L117.8,514 L118.2,513 L118.7,516 L119.3,520 L120.2,524 L120.9,527 L121,538.9 Z" fill="#2e6a4c"/>
<rect x="105.0" y="538.24" width="1.65" height="0.66" fill="#2e6a4c"/><rect x="108.2" y="537.84" width="1.65" height="1.06" fill="#2e6a4c"/><rect x="109.8" y="538.14" width="1.65" height="0.76" fill="#2e6a4c"/><rect x="111.4" y="537.45" width="1.65" height="1.45" fill="#2e6a4c"/>
<rect x="123.2" y="534.5" width="0.9" height="4.4" fill="#2e6a4c" opacity="0.7"/>
<line x1="163.9" y1="464.6" x2="254.6" y2="464.6" stroke="#c4c4ca" stroke-width="0.7" stroke-dasharray="14,1.2,9,1"/>
<rect x="163.50" y="440.5" width="0.8" height="24.5" fill="#b0b0b6"/>
<rect x="194.20" y="459.5" width="0.8" height="5.5" fill="#b0b0b6"/>
<rect x="207.10" y="443.6" width="0.8" height="21.4" fill="#b0b0b6"/>
<rect x="254.00" y="438.3" width="0.8" height="26.7" fill="#b0b0b6"/>
<line x1="163.9" y1="501.3" x2="254.6" y2="501.3" stroke="#6cb040" stroke-width="0.8" stroke-dasharray="16,1.2,10,1"/>
<rect x="163.45" y="479.6" width="0.9" height="22.2" fill="#6cb040"/>
<rect x="207.05" y="477.5" width="0.9" height="24.3" fill="#6cb040"/>
<rect x="253.95" y="479.0" width="0.9" height="22.8" fill="#6cb040"/>
<line x1="163.9" y1="538.4" x2="254.6" y2="538.4" stroke="#2e6a4c" stroke-width="0.8" stroke-dasharray="16,1.2,10,1"/>
<rect x="163.45" y="517.7" width="0.9" height="21.2" fill="#2e6a4c"/>
<rect x="194.15" y="535.8" width="0.9" height="3.1" fill="#2e6a4c"/>
<rect x="206.75" y="518.8" width="1.1" height="20.1" fill="#2e6a4c"/>
<rect x="253.95" y="512.0" width="0.9" height="26.9" fill="#2e6a4c"/>
<text x="54.0" y="492.8" font-size="5.9" fill="#333" textLength="60.4" lengthAdjust="spacingAndGlyphs">Log<tspan font-size="3.8" dy="1.2">2</tspan><tspan dy="-1.2"> (fold-change) = 1.30</tspan></text>
<text x="54.0" y="530.8" font-size="5.9" fill="#333" textLength="60.4" lengthAdjust="spacingAndGlyphs">Log<tspan font-size="3.8" dy="1.2">2</tspan><tspan dy="-1.2"> (fold-change) = 1.30</tspan></text>
<text x="186.8" y="492.8" font-size="5.9" fill="#333" textLength="60.2" lengthAdjust="spacingAndGlyphs">Log<tspan font-size="3.8" dy="1.2">2</tspan><tspan dy="-1.2"> (fold-change) = 0.25</tspan></text>
<text x="186.8" y="531.2" font-size="5.9" fill="#333" textLength="60.2" lengthAdjust="spacingAndGlyphs">Log<tspan font-size="3.8" dy="1.2">2</tspan><tspan dy="-1.2"> (fold-change) = 0.14</tspan></text>
<text x="37.7" y="550.3" font-size="6.0" font-style="italic" textLength="21.5" lengthAdjust="spacingAndGlyphs" fill="#222">RHBDD2</text>
<path d="M37.7,552 H44.5" stroke="#000" stroke-width="0.8"/><path d="M43.6,550.7 L45.8,552 L43.6,553.3 Z" fill="#000"/>
<line x1="37.3" y1="556" x2="124.4" y2="556" stroke="#111" stroke-width="0.8"/>
<rect x="37.1" y="554.6" width="7.9" height="2.9" rx="0.5" fill="#000"/><rect x="113" y="554.6" width="11.2" height="2.9" rx="0.5" fill="#000"/>
<rect x="100.3" y="554.5" width="4.3" height="3" rx="1.4" fill="#f0a020" stroke="#333" stroke-width="0.5"/>
<path d="M32.3,560.8 H118 M36.7,560.8 V563.6 M113.7,560.8 V563.6" stroke="#111" stroke-width="1.1" fill="none"/>
<text x="35.9" y="573.1" font-size="7.3" textLength="32.3" lengthAdjust="spacingAndGlyphs" fill="#222">75,508,328</text>
<text x="81.3" y="573.1" font-size="7.3" textLength="31.7" lengthAdjust="spacingAndGlyphs" fill="#222">75,511,397</text>
<text x="238.8" y="550.1" font-size="5.8" textLength="16.9" lengthAdjust="spacingAndGlyphs" fill="#222">H2AFY</text>
<path d="M255,552.4 H248.5" stroke="#000" stroke-width="0.8"/><path d="M249.5,551 L247,552.4 L249.5,553.8 Z" fill="#000"/>
<path d="M158,555.8 H260.3 M158,562.3 H260.3" stroke="#111" stroke-width="1.1"/>
<path d="M164.3,552.5 V565.5 M255,552.5 V565.5" stroke="#333" stroke-width="0.7"/>
<rect x="207.2" y="551.5" width="0.9" height="5.5" fill="#f0a020"/>
<rect x="193.4" y="559.3" width="0.9" height="5.5" fill="#5a8fd0"/>
<path d="M158.8,569.7 H258.5 M162.7,569.7 V573 M255,569.7 V573" stroke="#111" stroke-width="1.1" fill="none"/>
<text x="163.0" y="581.0" font-size="7.3" textLength="35.3" lengthAdjust="spacingAndGlyphs" fill="#222">134,681,497</text>
<text x="220.8" y="581.0" font-size="7.3" textLength="35.3" lengthAdjust="spacingAndGlyphs" fill="#222">134,696,437</text>
<text x="27" y="591.0" font-size="7.2" textLength="10.7" lengthAdjust="spacingAndGlyphs" fill="#333">WT</text>
<rect x="19.4" y="593.7" width="26.9" height="1.5" fill="#c4c4c4"/>
<text x="62.5" y="591.0" font-size="7.2" textLength="12.9" lengthAdjust="spacingAndGlyphs" fill="#333">I24T</text>
<rect x="55.2" y="593.7" width="26.9" height="1.5" fill="#6cb040"/>
<text x="95.6" y="591.0" font-size="7.2" font-weight="bold" textLength="16.1" lengthAdjust="spacingAndGlyphs" fill="#111">S34F</text>
<rect x="90.2" y="593.7" width="27.5" height="1.5" fill="#2e6a4c"/>
<text x="168.8" y="590.6" font-size="7.2" textLength="10.2" lengthAdjust="spacingAndGlyphs" fill="#333">WT</text>
<rect x="160.2" y="593.1" width="26.5" height="1.5" fill="#c4c4c4"/>
<text x="203.5" y="590.6" font-size="7.2" textLength="11.5" lengthAdjust="spacingAndGlyphs" fill="#333">I24T</text>
<rect x="195.4" y="593.1" width="26.8" height="1.5" fill="#6cb040"/>
<text x="235.2" y="590.6" font-size="7.2" font-weight="bold" textLength="15.0" lengthAdjust="spacingAndGlyphs" fill="#111">S34F</text>
<rect x="229.4" y="593.1" width="26.6" height="1.5" fill="#2e6a4c"/>
<defs><linearGradient id="gc" x1="0" y1="0" x2="0" y2="1"><stop offset="0" stop-color="#b4b4b4"/><stop offset="0.5" stop-color="#c2c2c2"/><stop offset="1" stop-color="#cbcbcb"/></linearGradient><linearGradient id="gd" x1="0" y1="0" x2="0" y2="1"><stop offset="0" stop-color="#454545"/><stop offset="0.5" stop-color="#5e5e5e"/><stop offset="1" stop-color="#7a7a7a"/></linearGradient><filter id="bl" x="-30%" y="-80%" width="160%" height="260%"><feGaussianBlur stdDeviation="0.75"/></filter><filter id="bl2" x="-30%" y="-80%" width="160%" height="260%"><feGaussianBlur stdDeviation="1.1"/></filter></defs>
<rect x="15.5" y="598" width="105.7" height="24.2" fill="url(#gc)"/>
<rect x="16.9" y="603.6" width="9.4" height="3.9" rx="1.6" fill="#262626" filter="url(#bl)"/>
<rect x="16.9" y="614.2" width="9.5" height="5.2" rx="2" fill="#000" filter="url(#bl)"/>
<rect x="28.6" y="603.6" width="9.4" height="3.9" rx="1.6" fill="#262626" filter="url(#bl)"/>
<rect x="28.6" y="614.2" width="9.5" height="5.2" rx="2" fill="#000" filter="url(#bl)"/>
<rect x="40.4" y="603.6" width="9.4" height="3.9" rx="1.6" fill="#262626" filter="url(#bl)"/>
<rect x="40.4" y="614.2" width="9.5" height="5.2" rx="2" fill="#000" filter="url(#bl)"/>
<rect x="52.1" y="602.8" width="9.4" height="4.7" rx="1.8" fill="#0a0a0a" filter="url(#bl)"/>
<rect x="52.1" y="614.3" width="9.4" height="4.3" rx="1.8" fill="#000" filter="url(#bl)"/>
<rect x="63.9" y="602.8" width="9.4" height="4.7" rx="1.8" fill="#0a0a0a" filter="url(#bl)"/>
<rect x="63.9" y="614.3" width="9.4" height="4.3" rx="1.8" fill="#000" filter="url(#bl)"/>
<rect x="75.7" y="602.8" width="9.4" height="4.7" rx="1.8" fill="#0a0a0a" filter="url(#bl)"/>
<rect x="75.7" y="614.3" width="9.4" height="4.3" rx="1.8" fill="#000" filter="url(#bl)"/>
<rect x="87.4" y="602.8" width="9.4" height="4.7" rx="1.8" fill="#0a0a0a" filter="url(#bl)"/>
<rect x="87.4" y="614.3" width="9.4" height="4.3" rx="1.8" fill="#000" filter="url(#bl)"/>
<rect x="99.2" y="602.8" width="9.4" height="4.7" rx="1.8" fill="#0a0a0a" filter="url(#bl)"/>
<rect x="99.2" y="614.3" width="9.4" height="4.3" rx="1.8" fill="#000" filter="url(#bl)"/>
<rect x="110.9" y="602.8" width="9.4" height="4.7" rx="1.8" fill="#0a0a0a" filter="url(#bl)"/>
<rect x="110.9" y="614.3" width="9.4" height="4.3" rx="1.8" fill="#000" filter="url(#bl)"/>
<text x="21.6" y="629.8" font-size="4.9" text-anchor="middle" fill="#1a1a1a">0.01</text>
<text x="33.4" y="629.8" font-size="4.9" text-anchor="middle" fill="#1a1a1a">0.00</text>
<text x="45.1" y="629.8" font-size="4.9" text-anchor="middle" fill="#1a1a1a">-0.01</text>
<text x="56.9" y="629.8" font-size="4.9" text-anchor="middle" fill="#1a1a1a">0.44</text>
<text x="68.6" y="629.8" font-size="4.9" text-anchor="middle" fill="#1a1a1a">0.47</text>
<text x="80.4" y="629.8" font-size="4.9" text-anchor="middle" fill="#1a1a1a">0.46</text>
<text x="92.1" y="629.8" font-size="4.9" text-anchor="middle" fill="#1a1a1a">0.42</text>
<text x="103.9" y="629.8" font-size="4.9" text-anchor="middle" fill="#1a1a1a">0.42</text>
<text x="115.6" y="629.8" font-size="4.9" text-anchor="middle" fill="#1a1a1a">0.41</text>
<rect x="155.7" y="597.2" width="105" height="23.6" fill="url(#gd)"/>
<rect x="156.4" y="602.4" width="9.5" height="4.6" rx="1.8" fill="#000" filter="url(#bl2)"/>
<rect x="156.4" y="607.9" width="9.5" height="2.8" rx="1.2" fill="#111" opacity="0.8" filter="url(#bl2)"/>
<rect x="168.1" y="602.4" width="9.5" height="4.6" rx="1.8" fill="#000" filter="url(#bl2)"/>
<rect x="168.1" y="607.9" width="9.5" height="2.8" rx="1.2" fill="#111" opacity="0.8" filter="url(#bl2)"/>
<rect x="179.7" y="602.4" width="9.5" height="4.6" rx="1.8" fill="#000" filter="url(#bl2)"/>
<rect x="179.7" y="607.9" width="9.5" height="2.8" rx="1.2" fill="#111" opacity="0.8" filter="url(#bl2)"/>
<rect x="191.4" y="601.6" width="9.5" height="5.0" rx="1.8" fill="#000" filter="url(#bl2)"/>
<rect x="191.4" y="607.4" width="9.5" height="2.6" rx="1.2" fill="#222" opacity="0.45" filter="url(#bl2)"/>
<rect x="203.1" y="601.6" width="9.5" height="5.0" rx="1.8" fill="#000" filter="url(#bl2)"/>
<rect x="203.1" y="607.4" width="9.5" height="2.6" rx="1.2" fill="#222" opacity="0.45" filter="url(#bl2)"/>
<rect x="214.8" y="601.6" width="9.5" height="5.0" rx="1.8" fill="#000" filter="url(#bl2)"/>
<rect x="214.8" y="607.4" width="9.5" height="2.6" rx="1.2" fill="#222" opacity="0.45" filter="url(#bl2)"/>
<rect x="226.4" y="602.4" width="9.5" height="4.6" rx="1.8" fill="#000" filter="url(#bl2)"/>
<rect x="226.4" y="607.9" width="9.5" height="2.8" rx="1.2" fill="#111" opacity="0.8" filter="url(#bl2)"/>
<rect x="238.1" y="602.4" width="9.5" height="4.6" rx="1.8" fill="#000" filter="url(#bl2)"/>
<rect x="238.1" y="607.9" width="9.5" height="2.8" rx="1.2" fill="#111" opacity="0.8" filter="url(#bl2)"/>
<rect x="249.8" y="602.4" width="9.5" height="4.6" rx="1.8" fill="#000" filter="url(#bl2)"/>
<rect x="249.8" y="607.9" width="9.5" height="2.8" rx="1.2" fill="#111" opacity="0.8" filter="url(#bl2)"/>
<text x="161.1" y="628.3" font-size="4.9" text-anchor="middle" fill="#1a1a1a">-0.01</text>
<text x="172.8" y="628.3" font-size="4.9" text-anchor="middle" fill="#1a1a1a">0.01</text>
<text x="184.4" y="628.3" font-size="4.9" text-anchor="middle" fill="#1a1a1a">0.00</text>
<text x="196.1" y="628.3" font-size="4.9" text-anchor="middle" fill="#1a1a1a">0.29</text>
<text x="207.8" y="628.3" font-size="4.9" text-anchor="middle" fill="#1a1a1a">0.29</text>
<text x="219.4" y="628.3" font-size="4.9" text-anchor="middle" fill="#1a1a1a">0.28</text>
<text x="231.1" y="628.3" font-size="4.9" text-anchor="middle" fill="#1a1a1a">0.17</text>
<text x="242.8" y="628.3" font-size="4.9" text-anchor="middle" fill="#1a1a1a">0.12</text>
<text x="254.5" y="628.3" font-size="4.9" text-anchor="middle" fill="#1a1a1a">0.15</text>
<rect x="123.5" y="603.9" width="21.5" height="2.9" fill="#000"/><rect x="130.9" y="604.5" width="6" height="1.7" fill="#f0a020"/>
<rect x="123.5" y="614.2" width="14.8" height="2.7" fill="#000"/>
<text x="137.6" y="626.3" font-size="5.9" text-anchor="middle" textLength="23.1" lengthAdjust="spacingAndGlyphs" fill="#1a1a1a">Log2 (fold-</text>
<text x="137.6" y="632.1" font-size="5.9" text-anchor="middle" textLength="13.5" lengthAdjust="spacingAndGlyphs" fill="#1a1a1a">change</text>
<text x="137.6" y="638.0" font-size="5.9" text-anchor="middle" textLength="46.9" lengthAdjust="spacingAndGlyphs" fill="#1a1a1a">orange exon inclusion</text>
<text x="137.6" y="643.8" font-size="5.9" text-anchor="middle" textLength="21.6" lengthAdjust="spacingAndGlyphs" fill="#1a1a1a">% relative</text>
<text x="137.6" y="649.6" font-size="5.9" text-anchor="middle" textLength="33.1" lengthAdjust="spacingAndGlyphs" fill="#1a1a1a">to average WT)</text>
<rect x="263.4" y="602.8" width="20.8" height="2.6" fill="#000"/><rect x="269.5" y="603.4" width="6.5" height="1.4" fill="#f0a020"/>
<rect x="263.4" y="607.2" width="20.8" height="2.6" fill="#000"/><rect x="269.5" y="607.8" width="6.5" height="1.4" fill="#6fa0e0"/>
<text x="340.8" y="624.2" font-size="8.2" fill="#222" textLength="122.2" lengthAdjust="spacingAndGlyphs"><tspan font-style="italic">H2AFY</tspan> mutually exclusive exons</text>
<rect x="291.2" y="629.2" width="32.3" height="11.3" fill="#c6c6ca" stroke="#333" stroke-width="0.9"/>
<rect x="361.5" y="629.2" width="30.0" height="11.3" fill="#c6c6ca" stroke="#333" stroke-width="0.9"/>
<rect x="427.5" y="629.2" width="32.5" height="11.3" fill="#c6c6ca" stroke="#333" stroke-width="0.9"/>
<rect x="480.5" y="629.2" width="32.8" height="11.3" fill="#c6c6ca" stroke="#333" stroke-width="0.9"/>
<path d="M323.5,634.8 H344 M391.5,634.8 H411 M460,634.8 H480.5" stroke="#555" stroke-width="0.8"/>
<text x="345.0" y="637.2" font-size="7.2" font-weight="bold" fill="#2a4fa0">c</text>
<text x="348.6" y="637.2" font-size="8.8" font-weight="bold" fill="#111" textLength="12.6" lengthAdjust="spacingAndGlyphs">AG</text>
<text x="362.1" y="637.2" font-size="7.2" font-weight="bold" fill="#2a4fa0">c</text>
<text x="410.9" y="637.2" font-size="7.2" font-weight="bold" fill="#c0163c">t</text>
<text x="414.5" y="637.2" font-size="8.8" font-weight="bold" fill="#111" textLength="12.6" lengthAdjust="spacingAndGlyphs">AG</text>
<text x="428.0" y="637.2" font-size="7.2" font-weight="bold" fill="#c0163c">t</text>
<text x="363.4" y="648.3" font-size="6.3" textLength="26.6" lengthAdjust="spacingAndGlyphs" fill="#222">upstream</text>
<text x="426.3" y="648.3" font-size="6.3" textLength="35" lengthAdjust="spacingAndGlyphs" fill="#222">downstream</text>
<text x="270.8" y="431.8" font-size="12.2" font-weight="bold" fill="#000">E</text>
<text x="420.2" y="432.4" font-size="12.2" font-weight="bold" fill="#000">F</text>
<text transform="translate(279.0,498.0) rotate(-90)" font-size="9.0" text-anchor="middle" fill="#333" textLength="86" lengthAdjust="spacingAndGlyphs">Inclusion of upstream exon /</text>
<text transform="translate(289.0,498.0) rotate(-90)" font-size="9.0" text-anchor="middle" fill="#333" textLength="90.4" lengthAdjust="spacingAndGlyphs">inclusion of downstream exon</text>
<text transform="translate(299.6,498.0) rotate(-90)" font-size="9.0" text-anchor="middle" fill="#333" textLength="47.9" lengthAdjust="spacingAndGlyphs">in mutant vs. WT</text>
<text transform="translate(427.9,498.0) rotate(-90)" font-size="9.0" text-anchor="middle" fill="#333" textLength="84" lengthAdjust="spacingAndGlyphs">Inclusion of upstream exon /</text>
<text transform="translate(438.9,498.0) rotate(-90)" font-size="9.0" text-anchor="middle" fill="#333" textLength="88.5" lengthAdjust="spacingAndGlyphs">inclusion of downstream exon</text>
<text transform="translate(448.9,498.0) rotate(-90)" font-size="9.0" text-anchor="middle" fill="#333" textLength="40.2" lengthAdjust="spacingAndGlyphs">in I24V vs. WT</text>
<path d="M313.4,459.7 V537.2 H405.7" stroke="#111" stroke-width="1.4" fill="none"/>
<line x1="311.09999999999997" y1="524.8" x2="313.4" y2="524.8" stroke="#111" stroke-width="0.9"/>
<text x="308.0" y="527.3" font-size="7.2" text-anchor="end" fill="#1a1a1a">1</text>
<line x1="311.09999999999997" y1="516.0" x2="313.4" y2="516.0" stroke="#111" stroke-width="0.9"/>
<text x="308.0" y="518.5" font-size="7.2" text-anchor="end" fill="#1a1a1a">2</text>
<line x1="311.09999999999997" y1="507.2" x2="313.4" y2="507.2" stroke="#111" stroke-width="0.9"/>
<text x="308.0" y="509.7" font-size="7.2" text-anchor="end" fill="#1a1a1a">3</text>
<line x1="311.09999999999997" y1="498.4" x2="313.4" y2="498.4" stroke="#111" stroke-width="0.9"/>
<text x="308.0" y="500.9" font-size="7.2" text-anchor="end" fill="#1a1a1a">4</text>
<line x1="311.09999999999997" y1="489.6" x2="313.4" y2="489.6" stroke="#111" stroke-width="0.9"/>
<text x="308.0" y="492.1" font-size="7.2" text-anchor="end" fill="#1a1a1a">5</text>
<line x1="311.09999999999997" y1="480.8" x2="313.4" y2="480.8" stroke="#111" stroke-width="0.9"/>
<text x="308.0" y="483.3" font-size="7.2" text-anchor="end" fill="#1a1a1a">6</text>
<line x1="311.09999999999997" y1="472.0" x2="313.4" y2="472.0" stroke="#111" stroke-width="0.9"/>
<text x="308.0" y="474.5" font-size="7.2" text-anchor="end" fill="#1a1a1a">7</text>
<line x1="311.09999999999997" y1="463.2" x2="313.4" y2="463.2" stroke="#111" stroke-width="0.9"/>
<text x="308.0" y="465.7" font-size="7.2" text-anchor="end" fill="#1a1a1a">8</text>
<rect x="315.0" y="484.2" width="9.9" height="49.4" fill="#4b5168"/>
<path d="M319.9,470.3 V498.9 M318.6,470.3 H321.2 M318.6,498.9 H321.2" stroke="#111" stroke-width="0.8"/>
<line x1="319.9" y1="537.2" x2="319.9" y2="539.8000000000001" stroke="#111" stroke-width="0.9"/>
<rect x="326.5" y="501.5" width="9.7" height="32.1" fill="#4b5168"/>
<path d="M331.4,494.5 V508.8 M330.1,494.5 H332.7 M330.1,508.8 H332.7" stroke="#111" stroke-width="0.8"/>
<line x1="331.4" y1="537.2" x2="331.4" y2="539.8000000000001" stroke="#111" stroke-width="0.9"/>
<rect x="338.0" y="517.2" width="9.3" height="16.4" fill="#4b5168"/>
<path d="M342.6,513.0 V521.0 M341.3,513.0 H343.9 M341.3,521.0 H343.9" stroke="#111" stroke-width="0.8"/>
<line x1="342.6" y1="537.2" x2="342.6" y2="539.8000000000001" stroke="#111" stroke-width="0.9"/>
<rect x="349.2" y="521.0" width="9.6" height="12.6" fill="#4b5168"/>
<path d="M354.0,518.5 V524.3 M352.7,518.5 H355.3 M352.7,524.3 H355.3" stroke="#111" stroke-width="0.8"/>
<line x1="354.0" y1="537.2" x2="354.0" y2="539.8000000000001" stroke="#111" stroke-width="0.9"/>
<rect x="360.5" y="525.0" width="9.5" height="8.6" fill="#4b5168"/>
<path d="M365.2,522.0 V527.0 M363.9,522.0 H366.6 M363.9,527.0 H366.6" stroke="#111" stroke-width="0.8"/>
<line x1="365.2" y1="537.2" x2="365.2" y2="539.8000000000001" stroke="#111" stroke-width="0.9"/>
<rect x="371.5" y="522.2" width="9.7" height="11.4" fill="#4b5168"/>
<path d="M376.4,519.2 V525.0 M375.1,519.2 H377.7 M375.1,525.0 H377.7" stroke="#111" stroke-width="0.8"/>
<line x1="376.4" y1="537.2" x2="376.4" y2="539.8000000000001" stroke="#111" stroke-width="0.9"/>
<rect x="382.6" y="525.5" width="9.7" height="8.1" fill="#4b5168"/>
<path d="M387.5,523.0 V528.0 M386.2,523.0 H388.8 M386.2,528.0 H388.8" stroke="#111" stroke-width="0.8"/>
<line x1="387.5" y1="537.2" x2="387.5" y2="539.8000000000001" stroke="#111" stroke-width="0.9"/>
<rect x="394.0" y="517.0" width="9.9" height="16.6" fill="#4b5168"/>
<path d="M398.9,513.0 V519.7 M397.6,513.0 H400.2 M397.6,519.7 H400.2" stroke="#111" stroke-width="0.8"/>
<line x1="398.9" y1="537.2" x2="398.9" y2="539.8000000000001" stroke="#111" stroke-width="0.9"/>
<line x1="313.4" y1="524.8" x2="405.7" y2="524.8" stroke="#1a1a1a" stroke-width="1.2" stroke-dasharray="3.2,2.0"/>
<path d="M462.8,460.0 V536.7 H513.0" stroke="#111" stroke-width="1.4" fill="none"/>
<line x1="460.5" y1="533.6" x2="462.8" y2="533.6" stroke="#111" stroke-width="0.9"/>
<text x="457.6" y="536.1" font-size="7.2" text-anchor="end" fill="#1a1a1a">0</text>
<line x1="460.5" y1="516.4" x2="462.8" y2="516.4" stroke="#111" stroke-width="0.9"/>
<text x="457.6" y="518.9" font-size="7.2" text-anchor="end" fill="#1a1a1a">1</text>
<line x1="460.5" y1="499.2" x2="462.8" y2="499.2" stroke="#111" stroke-width="0.9"/>
<text x="457.6" y="501.7" font-size="7.2" text-anchor="end" fill="#1a1a1a">2</text>
<line x1="460.5" y1="482.0" x2="462.8" y2="482.0" stroke="#111" stroke-width="0.9"/>
<text x="457.6" y="484.5" font-size="7.2" text-anchor="end" fill="#1a1a1a">3</text>
<line x1="460.5" y1="464.8" x2="462.8" y2="464.8" stroke="#111" stroke-width="0.9"/>
<text x="457.6" y="467.3" font-size="7.2" text-anchor="end" fill="#1a1a1a">4</text>
<rect x="464.6" y="478.0" width="10.4" height="55.6" fill="#4b5168"/>
<path d="M469.8,474.1 V481.1 M468.5,474.1 H471.1 M468.5,481.1 H471.1" stroke="#111" stroke-width="0.8"/>
<line x1="469.8" y1="536.7" x2="469.8" y2="539.3000000000001" stroke="#111" stroke-width="0.9"/>
<rect x="475.8" y="515.5" width="10.1" height="18.1" fill="#4b5168"/>
<path d="M480.9,511.4 V519.1 M479.6,511.4 H482.2 M479.6,519.1 H482.2" stroke="#111" stroke-width="0.8"/>
<line x1="480.9" y1="536.7" x2="480.9" y2="539.3000000000001" stroke="#111" stroke-width="0.9"/>
<rect x="487.1" y="486.3" width="9.9" height="47.3" fill="#4b5168"/>
<path d="M492.1,480.6 V490.7 M490.8,480.6 H493.4 M490.8,490.7 H493.4" stroke="#111" stroke-width="0.8"/>
<line x1="492.1" y1="536.7" x2="492.1" y2="539.3000000000001" stroke="#111" stroke-width="0.9"/>
<rect x="498.3" y="513.4" width="10.3" height="20.2" fill="#4b5168"/>
<path d="M503.5,508.3 V519.9 M502.2,508.3 H504.8 M502.2,519.9 H504.8" stroke="#111" stroke-width="0.8"/>
<line x1="503.5" y1="536.7" x2="503.5" y2="539.3000000000001" stroke="#111" stroke-width="0.9"/>
<line x1="462.8" y1="516.5" x2="513.0" y2="516.5" stroke="#1a1a1a" stroke-width="1.2" stroke-dasharray="3.2,2.0"/>
<text transform="translate(322.8,548.0) rotate(-45)" font-size="6.5" text-anchor="end" fill="#333">I24T</text>
<text transform="translate(334.2,548.0) rotate(-45)" font-size="6.5" text-anchor="end" fill="#333">I24V</text>
<text transform="translate(345.5,548.0) rotate(-45)" font-size="6.5" text-anchor="end" fill="#111" font-weight="bold">S34F</text>
<text transform="translate(356.9,548.0) rotate(-45)" font-size="6.5" text-anchor="end" fill="#333">R156H</text>
<text transform="translate(368.1,548.0) rotate(-45)" font-size="6.5" text-anchor="end" fill="#333">R156Q</text>
<text transform="translate(379.2,548.0) rotate(-45)" font-size="6.5" text-anchor="end" fill="#111" font-weight="bold">Q157R</text>
<text transform="translate(390.3,548.0) rotate(-45)" font-size="6.5" text-anchor="end" fill="#333">E159_M160insYE</text>
<text transform="translate(401.8,548.0) rotate(-45)" font-size="6.5" text-anchor="end" fill="#333">S34F + Q157R</text>
<text transform="translate(473.1,548.6) rotate(-45)" font-size="7.0" text-anchor="end" textLength="33" lengthAdjust="spacingAndGlyphs"><tspan fill="#4a6fc0">c</tspan><tspan fill="#333">AG</tspan><tspan fill="#4a6fc0">c</tspan><tspan fill="#333">...</tspan><tspan fill="#d0203c">t</tspan><tspan fill="#333">AG</tspan><tspan fill="#d0203c">t</tspan></text>
<text transform="translate(484.2,548.6) rotate(-45)" font-size="7.0" text-anchor="end" textLength="33" lengthAdjust="spacingAndGlyphs"><tspan fill="#4a6fc0">c</tspan><tspan fill="#333">AG</tspan><tspan fill="#d0203c">t</tspan><tspan fill="#333">...</tspan><tspan fill="#d0203c">t</tspan><tspan fill="#333">AG</tspan><tspan fill="#4a6fc0">c</tspan></text>
<text transform="translate(495.4,548.6) rotate(-45)" font-size="7.0" text-anchor="end" textLength="33" lengthAdjust="spacingAndGlyphs"><tspan fill="#d0203c">t</tspan><tspan fill="#333">AG</tspan><tspan fill="#4a6fc0">c</tspan><tspan fill="#333">...</tspan><tspan fill="#4a6fc0">c</tspan><tspan fill="#333">AG</tspan><tspan fill="#d0203c">t</tspan></text>
<text transform="translate(506.8,548.6) rotate(-45)" font-size="7.0" text-anchor="end" textLength="33" lengthAdjust="spacingAndGlyphs"><tspan fill="#d0203c">t</tspan><tspan fill="#333">AG</tspan><tspan fill="#d0203c">t</tspan><tspan fill="#333">...</tspan><tspan fill="#4a6fc0">c</tspan><tspan fill="#333">AG</tspan><tspan fill="#4a6fc0">c</tspan></text>
<rect x="0.6" y="0.6" width="518.8" height="655.8" fill="none" stroke="#000" stroke-width="1.2"/>
</svg></body></html>
